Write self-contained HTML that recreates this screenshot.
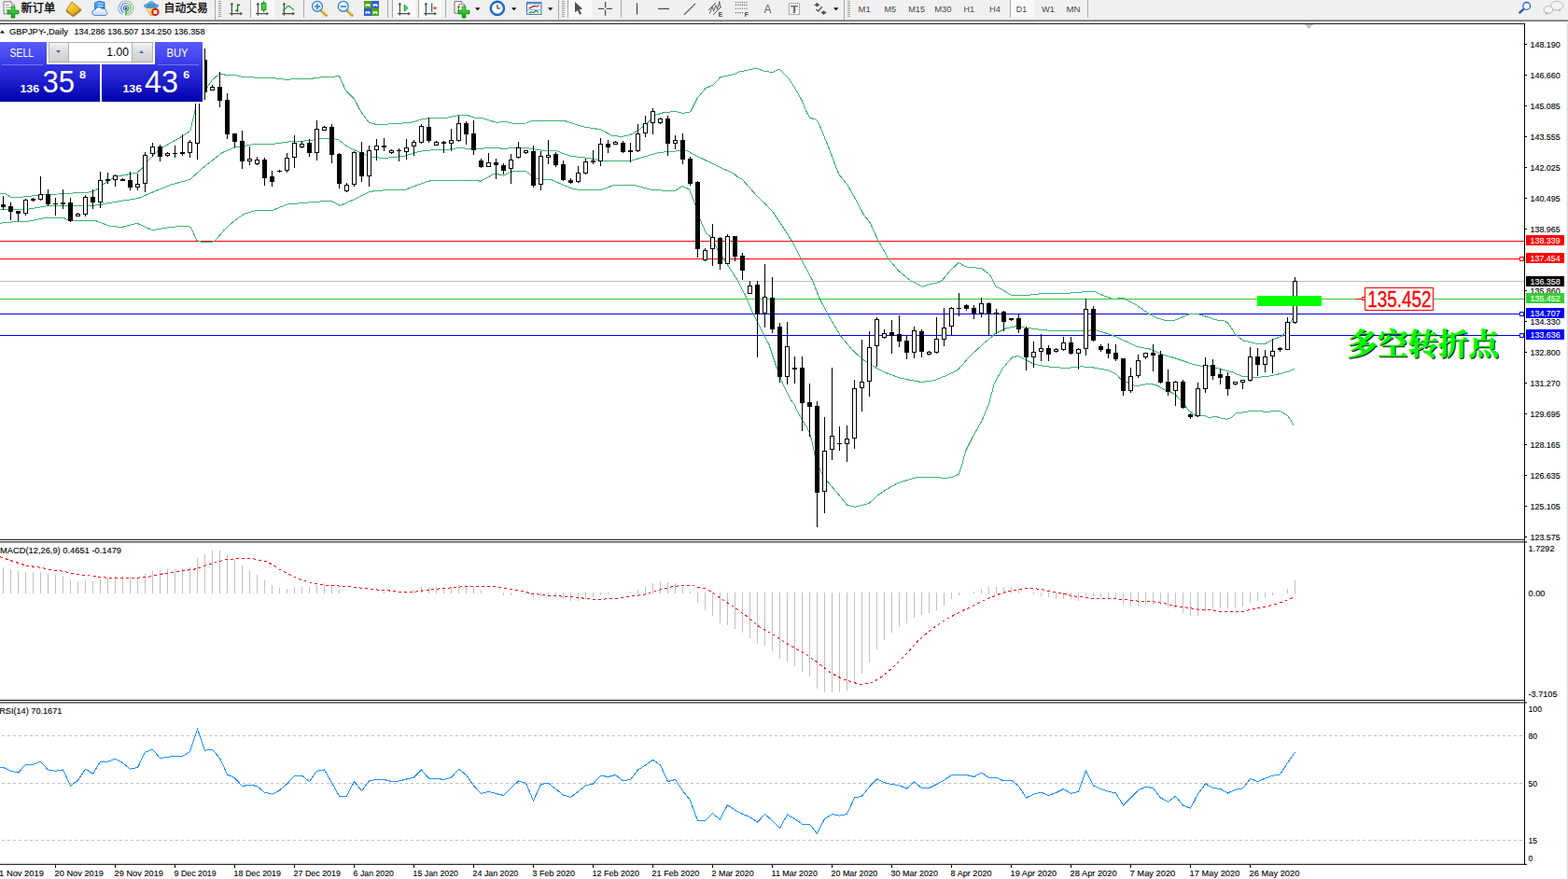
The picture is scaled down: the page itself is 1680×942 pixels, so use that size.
<!DOCTYPE html>
<html><head><meta charset="utf-8"><title>GBPJPY Daily</title>
<style>html,body{margin:0;padding:0;background:#fff;overflow:hidden}body{width:1680px;height:942px;font-family:"Liberation Sans",sans-serif}svg text{white-space:pre}</style></head>
<body>
<svg width="1680" height="942" viewBox="0 0 1680 942" style="display:block">
<rect x="0" y="0" width="1680" height="942" fill="#fff"/>
<g shape-rendering="crispEdges">
<rect x="0" y="301" width="1633" height="1" fill="#c0c0c0"/>
<rect x="0" y="258" width="1633" height="1" fill="#ff0000"/>
<rect x="0" y="277" width="1633" height="1" fill="#ff0000"/>
<rect x="0" y="320" width="1633" height="1" fill="#32cd32"/>
<rect x="0" y="336" width="1633" height="1" fill="#0000ff"/>
<rect x="0" y="359" width="1633" height="1" fill="#0000ff"/>
<polyline points="0.0,207.0 5.0,207.3 11.7,211.3 22.5,211.3 41.7,209.2 70.0,207.5 98.3,205.8 103.3,203.3 110.8,197.5 123.3,189.2 138.3,186.7 147.5,185.0 151.7,180.8 158.0,173.1 171.6,159.5 195.4,145.9 203.9,140.4 209.8,114.9 222.1,93.5 227.2,85.9 234.0,79.9 239.9,79.3 240.8,80.6 253.5,80.6 254.4,81.5 257.8,81.6 258.6,82.5 271.8,82.5 272.6,83.5 295.6,83.5 296.4,84.4 303.7,84.6 304.5,85.5 310.5,85.5 311.3,84.4 335.1,84.4 335.9,83.5 339.3,83.5 342.7,83.4 343.5,82.5 358.8,82.5 359.6,81.4 363.5,81.4 366.4,88.0 370.3,96.5 380.0,106.7 386.8,119.9 395.3,131.3 398.7,132.2 402.1,133.2 410.0,133.2 422.9,132.8 443.3,130.8 450.1,128.2 459.4,126.5 479.0,126.2 490.9,123.5 501.1,123.5 507.9,126.0 516.3,126.5 531.6,131.3 540.9,130.5 550.1,132.2 563.8,132.0 570.6,129.4 591.0,129.6 604.6,129.4 624.9,135.9 643.6,138.8 655.5,145.2 665.7,146.4 675.9,144.4 684.4,139.3 692.9,132.5 703.1,123.1 709.9,120.9 723.5,119.4 732.0,121.4 739.8,119.9 747.0,105.5 755.7,94.8 764.4,90.7 771.9,82.7 787.5,79.3 791.3,77.2 809.8,73.3 812.8,73.8 818.8,76.4 827.7,77.5 835.1,74.1 844.0,82.7 851.4,93.8 858.9,107.2 864.8,121.3 867.8,126.2 873.7,128.0 876.7,131.0 882.6,145.1 888.6,160.0 895.1,177.4 899.3,187.5 908.4,198.7 916.9,214.0 925.4,230.1 932.2,238.6 940.7,257.3 952.1,277.6 963.1,290.7 975.9,300.9 988.2,307.3 995.0,304.9 1005.6,302.6 1010.0,299.8 1017.9,290.2 1027.2,281.4 1034.8,285.9 1051.8,287.6 1054.4,290.0 1060.2,293.9 1067.2,307.0 1074.0,310.4 1083.3,316.3 1101.2,316.3 1119.9,314.3 1141.9,314.3 1157.2,313.4 1162.3,312.1 1172.5,312.1 1181.0,316.3 1192.9,320.6 1203.1,319.2 1218.4,327.4 1230.3,335.9 1240.0,341.0 1247.9,343.2 1258.9,343.2 1274.2,336.7 1284.4,336.7 1297.8,341.0 1301.6,342.7 1311.8,344.0 1315.8,346.2 1320.0,352.5 1323.2,358.0 1331.7,364.8 1348.7,369.0 1355.5,368.5 1364.0,363.9 1374.2,359.7 1382.7,346.1 1386.1,338.4" fill="none" stroke="#3cb371" stroke-width="1"/>
<polyline points="0.0,224.2 10.0,224.7 30.0,224.2 50.0,220.8 70.0,220.5 90.0,220.8 106.7,219.7 116.7,217.5 148.3,212.5 166.7,204.7 183.3,198.0 203.3,192.5 217.9,179.5 237.9,163.7 251.4,158.1 270.9,154.9 280.0,154.4 293.8,154.2 312.5,151.5 331.2,150.8 344.8,148.6 361.7,149.1 371.9,157.1 388.9,164.8 399.1,168.7 412.7,169.3 433.1,167.3 450.1,162.2 465.4,160.5 482.4,160.0 490.9,158.5 507.9,159.7 528.2,158.3 540.0,159.3 550.0,158.5 553.6,158.0 565.5,158.8 582.5,161.4 596.1,161.7 611.4,167.3 624.9,168.7 648.7,172.7 674.2,172.7 692.9,167.3 706.5,163.4 720.1,162.2 736.2,161.4 740.0,163.7 747.4,167.8 752.4,169.9 757.8,172.6 772.7,179.8 783.1,184.5 786.1,185.9 790.5,189.7 794.8,191.9 798.0,195.3 811.5,210.6 820.0,218.6 828.5,227.6 838.7,242.9 848.9,259.0 859.1,279.3 869.7,298.8 878.2,320.0 888.4,339.6 900.6,359.9 912.5,374.3 924.4,385.3 939.7,394.7 949.9,399.8 963.5,404.9 975.4,407.4 987.3,409.5 1000.9,407.8 1014.5,402.3 1026.3,396.4 1039.1,381.8 1050.1,371.7 1053.6,368.2 1060.0,363.2 1065.5,358.0 1077.4,352.0 1089.3,349.5 1099.5,351.2 1116.5,353.7 1138.5,354.9 1155.5,354.6 1174.2,353.7 1192.9,359.7 1218.4,371.5 1232.0,374.1 1240.0,377.5 1250.7,381.7 1255.3,382.6 1270.6,387.7 1277.9,390.2 1284.2,391.9 1298.0,392.8 1313.1,397.0 1320.0,398.7 1330.0,403.0 1341.9,404.7 1357.2,403.5 1372.5,400.4 1381.0,397.9 1387.0,395.3" fill="none" stroke="#3cb371" stroke-width="1"/>
<polyline points="0.0,239.2 16.7,237.5 30.0,237.2 50.0,233.3 68.3,233.3 73.3,236.3 101.7,236.3 116.7,242.0 130.0,243.7 146.7,239.2 163.3,246.7 183.3,243.3 200.0,242.2 204.2,243.3 210.8,257.5 216.7,259.5 227.5,259.5 230.8,257.5 240.0,246.7 250.0,237.5 261.7,229.2 270.0,226.8 275.0,225.3 280.0,225.3 292.1,225.4 307.4,219.1 334.6,216.6 354.9,215.2 364.3,220.5 378.7,214.0 395.7,205.5 405.9,204.2 434.8,203.0 456.9,194.8 463.7,193.3 511.3,193.1 514.6,194.5 529.9,186.0 539.6,188.1 549.2,183.7 563.8,184.0 574.0,191.1 582.5,192.4 591.0,192.8 611.4,201.6 619.9,203.5 643.6,203.5 657.2,198.7 679.3,198.4 699.7,203.8 723.5,204.3 731.0,199.4 738.6,203.0 744.1,217.0 750.5,236.1 756.0,249.0 762.3,254.8 769.1,268.3 779.6,283.9 789.8,299.7 799.2,317.9 804.8,331.2 809.0,340.0 812.3,346.3 824.2,370.0 832.7,395.5 837.8,409.1 842.9,420.0 848.0,429.5 851.4,433.6 853.9,440.0 859.9,450.6 866.6,461.6 870.0,472.7 872.6,486.3 877.7,501.5 881.9,510.0 888.7,518.5 898.9,530.4 907.4,541.0 915.9,543.2 931.2,539.4 939.7,531.3 949.9,524.5 962.6,517.3 978.8,512.6 983.9,511.4 1006.0,511.4 1009.4,512.6 1019.6,511.7 1027.2,508.3 1029.7,501.5 1034.8,482.9 1041.6,469.3 1052.3,450.3 1059.3,433.2 1065.5,410.6 1074.0,395.3 1084.2,383.1 1091.0,381.4 1097.8,385.1 1108.0,390.2 1121.5,392.8 1141.9,394.5 1158.9,392.8 1172.5,394.1 1187.8,397.0 1196.3,401.3 1201.4,407.2 1209.9,410.6 1216.7,413.7 1232.0,411.1 1240.2,413.2 1248.7,418.3 1258.9,422.3 1266.6,431.0 1274.0,440.4 1277.9,442.9 1281.9,446.1 1285.7,445.7 1291.0,445.5 1294.8,447.2 1303.7,446.8 1311.8,448.9 1314.9,449.2 1320.0,447.2 1323.9,442.9 1335.7,441.4 1341.9,440.0 1347.1,440.4 1356.5,441.3 1371.1,440.4 1378.9,444.9 1382.7,449.7 1386.4,456.4" fill="none" stroke="#3cb371" stroke-width="1"/>
<rect x="3" y="210" width="1" height="15" fill="#000"/>
<rect x="1" y="219" width="5" height="3" fill="#000"/>
<rect x="11" y="217" width="1" height="19" fill="#000"/>
<rect x="9" y="221" width="5" height="6" fill="#000"/>
<rect x="19" y="226" width="1" height="11" fill="#000"/>
<rect x="17" y="226" width="5" height="3" fill="#000"/>
<rect x="27" y="213" width="1" height="18" fill="#000"/>
<rect x="25" y="214" width="5" height="15" fill="#000"/><rect x="26" y="215" width="3" height="13" fill="#fff"/>
<rect x="35" y="212" width="1" height="4" fill="#000"/>
<rect x="33" y="213" width="5" height="2" fill="#000"/>
<rect x="43" y="189" width="1" height="26" fill="#000"/>
<rect x="41" y="208" width="5" height="6" fill="#000"/><rect x="42" y="209" width="3" height="4" fill="#fff"/>
<rect x="51" y="203" width="1" height="18" fill="#000"/>
<rect x="49" y="208" width="5" height="11" fill="#000"/>
<rect x="59" y="212" width="1" height="19" fill="#000"/>
<rect x="57" y="218" width="5" height="1" fill="#000"/>
<rect x="67" y="203" width="1" height="21" fill="#000"/>
<rect x="65" y="217" width="5" height="2" fill="#000"/>
<rect x="75" y="212" width="1" height="26" fill="#000"/>
<rect x="73" y="217" width="5" height="20" fill="#000"/>
<rect x="83" y="228" width="1" height="4" fill="#000"/>
<rect x="81" y="229" width="5" height="3" fill="#000"/><rect x="82" y="230" width="3" height="1" fill="#fff"/>
<rect x="91" y="209" width="1" height="23" fill="#000"/>
<rect x="89" y="211" width="5" height="19" fill="#000"/><rect x="90" y="212" width="3" height="17" fill="#fff"/>
<rect x="99" y="203" width="1" height="21" fill="#000"/>
<rect x="97" y="211" width="5" height="6" fill="#000"/>
<rect x="107" y="184" width="1" height="39" fill="#000"/>
<rect x="105" y="193" width="5" height="24" fill="#000"/><rect x="106" y="194" width="3" height="22" fill="#fff"/>
<rect x="115" y="185" width="1" height="12" fill="#000"/>
<rect x="113" y="192" width="5" height="2" fill="#000"/>
<rect x="123" y="187" width="1" height="13" fill="#000"/>
<rect x="121" y="188" width="5" height="5" fill="#000"/><rect x="122" y="189" width="3" height="3" fill="#fff"/>
<rect x="131" y="191" width="1" height="3" fill="#000"/>
<rect x="129" y="192" width="5" height="2" fill="#000"/>
<rect x="139" y="184" width="1" height="20" fill="#000"/>
<rect x="137" y="193" width="5" height="8" fill="#000"/>
<rect x="147" y="186" width="1" height="18" fill="#000"/>
<rect x="145" y="197" width="5" height="4" fill="#000"/><rect x="146" y="198" width="3" height="2" fill="#fff"/>
<rect x="155" y="163" width="1" height="43" fill="#000"/>
<rect x="153" y="166" width="5" height="31" fill="#000"/><rect x="154" y="167" width="3" height="29" fill="#fff"/>
<rect x="163" y="153" width="1" height="15" fill="#000"/>
<rect x="161" y="157" width="5" height="8" fill="#000"/><rect x="162" y="158" width="3" height="6" fill="#fff"/>
<rect x="171" y="155" width="1" height="18" fill="#000"/>
<rect x="169" y="157" width="5" height="11" fill="#000"/>
<rect x="179" y="163" width="1" height="5" fill="#000"/>
<rect x="177" y="164" width="5" height="3" fill="#000"/><rect x="178" y="165" width="3" height="1" fill="#fff"/>
<rect x="187" y="156" width="1" height="13" fill="#000"/>
<rect x="185" y="164" width="5" height="1" fill="#000"/>
<rect x="195" y="144" width="1" height="23" fill="#000"/>
<rect x="193" y="163" width="5" height="2" fill="#000"/>
<rect x="203" y="150" width="1" height="19" fill="#000"/>
<rect x="201" y="152" width="5" height="12" fill="#000"/><rect x="202" y="153" width="3" height="10" fill="#fff"/>
<rect x="211" y="58" width="1" height="113" fill="#000"/>
<rect x="209" y="61" width="5" height="93" fill="#000"/><rect x="210" y="62" width="3" height="91" fill="#fff"/>
<rect x="219" y="52" width="1" height="55" fill="#000"/>
<rect x="217" y="64" width="5" height="35" fill="#000"/>
<rect x="227" y="91" width="1" height="6" fill="#000"/>
<rect x="225" y="93" width="5" height="4" fill="#000"/><rect x="226" y="94" width="3" height="2" fill="#fff"/>
<rect x="235" y="77" width="1" height="38" fill="#000"/>
<rect x="233" y="93" width="5" height="15" fill="#000"/>
<rect x="243" y="100" width="1" height="49" fill="#000"/>
<rect x="241" y="107" width="5" height="37" fill="#000"/>
<rect x="251" y="143" width="1" height="15" fill="#000"/>
<rect x="249" y="143" width="5" height="9" fill="#000"/>
<rect x="259" y="140" width="1" height="41" fill="#000"/>
<rect x="257" y="151" width="5" height="22" fill="#000"/>
<rect x="267" y="157" width="1" height="20" fill="#000"/>
<rect x="265" y="170" width="5" height="3" fill="#000"/><rect x="266" y="171" width="3" height="1" fill="#fff"/>
<rect x="275" y="168" width="1" height="9" fill="#000"/>
<rect x="273" y="171" width="5" height="5" fill="#000"/><rect x="274" y="172" width="3" height="3" fill="#fff"/>
<rect x="283" y="169" width="1" height="30" fill="#000"/>
<rect x="281" y="171" width="5" height="20" fill="#000"/>
<rect x="291" y="183" width="1" height="17" fill="#000"/>
<rect x="289" y="189" width="5" height="6" fill="#000"/>
<rect x="299" y="182" width="1" height="3" fill="#000"/>
<rect x="297" y="183" width="5" height="1" fill="#000"/>
<rect x="307" y="164" width="1" height="21" fill="#000"/>
<rect x="305" y="169" width="5" height="14" fill="#000"/><rect x="306" y="170" width="3" height="12" fill="#fff"/>
<rect x="315" y="145" width="1" height="35" fill="#000"/>
<rect x="313" y="153" width="5" height="16" fill="#000"/><rect x="314" y="154" width="3" height="14" fill="#fff"/>
<rect x="323" y="151" width="1" height="8" fill="#000"/>
<rect x="321" y="154" width="5" height="4" fill="#000"/><rect x="322" y="155" width="3" height="2" fill="#fff"/>
<rect x="331" y="149" width="1" height="19" fill="#000"/>
<rect x="329" y="153" width="5" height="11" fill="#000"/>
<rect x="339" y="129" width="1" height="43" fill="#000"/>
<rect x="337" y="138" width="5" height="26" fill="#000"/><rect x="338" y="139" width="3" height="24" fill="#fff"/>
<rect x="347" y="135" width="1" height="5" fill="#000"/>
<rect x="345" y="136" width="5" height="4" fill="#000"/><rect x="346" y="137" width="3" height="2" fill="#fff"/>
<rect x="355" y="133" width="1" height="42" fill="#000"/>
<rect x="353" y="136" width="5" height="30" fill="#000"/>
<rect x="363" y="164" width="1" height="38" fill="#000"/>
<rect x="361" y="165" width="5" height="32" fill="#000"/>
<rect x="371" y="196" width="1" height="10" fill="#000"/>
<rect x="369" y="198" width="5" height="7" fill="#000"/><rect x="370" y="199" width="3" height="5" fill="#fff"/>
<rect x="379" y="162" width="1" height="38" fill="#000"/>
<rect x="377" y="163" width="5" height="35" fill="#000"/><rect x="378" y="164" width="3" height="33" fill="#fff"/>
<rect x="387" y="152" width="1" height="43" fill="#000"/>
<rect x="385" y="163" width="5" height="26" fill="#000"/>
<rect x="395" y="156" width="1" height="44" fill="#000"/>
<rect x="393" y="161" width="5" height="28" fill="#000"/><rect x="394" y="162" width="3" height="26" fill="#fff"/>
<rect x="403" y="149" width="1" height="23" fill="#000"/>
<rect x="401" y="156" width="5" height="5" fill="#000"/><rect x="402" y="157" width="3" height="3" fill="#fff"/>
<rect x="411" y="148" width="1" height="14" fill="#000"/>
<rect x="409" y="156" width="5" height="2" fill="#000"/>
<rect x="419" y="160" width="1" height="5" fill="#000"/>
<rect x="417" y="161" width="5" height="3" fill="#000"/><rect x="418" y="162" width="3" height="1" fill="#fff"/>
<rect x="427" y="159" width="1" height="14" fill="#000"/>
<rect x="425" y="161" width="5" height="1" fill="#000"/>
<rect x="435" y="149" width="1" height="22" fill="#000"/>
<rect x="433" y="158" width="5" height="5" fill="#000"/><rect x="434" y="159" width="3" height="3" fill="#fff"/>
<rect x="443" y="150" width="1" height="17" fill="#000"/>
<rect x="441" y="152" width="5" height="5" fill="#000"/><rect x="442" y="153" width="3" height="3" fill="#fff"/>
<rect x="451" y="133" width="1" height="21" fill="#000"/>
<rect x="449" y="135" width="5" height="18" fill="#000"/><rect x="450" y="136" width="3" height="16" fill="#fff"/>
<rect x="459" y="126" width="1" height="27" fill="#000"/>
<rect x="457" y="136" width="5" height="15" fill="#000"/>
<rect x="467" y="151" width="1" height="5" fill="#000"/>
<rect x="465" y="152" width="5" height="4" fill="#000"/><rect x="466" y="153" width="3" height="2" fill="#fff"/>
<rect x="475" y="151" width="1" height="13" fill="#000"/>
<rect x="473" y="152" width="5" height="2" fill="#000"/>
<rect x="483" y="138" width="1" height="24" fill="#000"/>
<rect x="481" y="150" width="5" height="4" fill="#000"/><rect x="482" y="151" width="3" height="2" fill="#fff"/>
<rect x="491" y="124" width="1" height="28" fill="#000"/>
<rect x="489" y="132" width="5" height="19" fill="#000"/><rect x="490" y="133" width="3" height="17" fill="#fff"/>
<rect x="499" y="130" width="1" height="25" fill="#000"/>
<rect x="497" y="132" width="5" height="12" fill="#000"/>
<rect x="507" y="129" width="1" height="37" fill="#000"/>
<rect x="505" y="143" width="5" height="18" fill="#000"/>
<rect x="515" y="170" width="1" height="10" fill="#000"/>
<rect x="513" y="172" width="5" height="7" fill="#000"/>
<rect x="523" y="164" width="1" height="15" fill="#000"/>
<rect x="521" y="174" width="5" height="5" fill="#000"/><rect x="522" y="175" width="3" height="3" fill="#fff"/>
<rect x="531" y="170" width="1" height="22" fill="#000"/>
<rect x="529" y="174" width="5" height="3" fill="#000"/>
<rect x="539" y="175" width="1" height="12" fill="#000"/>
<rect x="537" y="177" width="5" height="6" fill="#000"/>
<rect x="547" y="165" width="1" height="32" fill="#000"/>
<rect x="545" y="171" width="5" height="10" fill="#000"/><rect x="546" y="172" width="3" height="8" fill="#fff"/>
<rect x="555" y="152" width="1" height="18" fill="#000"/>
<rect x="553" y="158" width="5" height="11" fill="#000"/><rect x="554" y="159" width="3" height="9" fill="#fff"/>
<rect x="563" y="161" width="1" height="4" fill="#000"/>
<rect x="561" y="161" width="5" height="3" fill="#000"/><rect x="562" y="162" width="3" height="1" fill="#fff"/>
<rect x="571" y="156" width="1" height="45" fill="#000"/>
<rect x="569" y="162" width="5" height="37" fill="#000"/>
<rect x="579" y="162" width="1" height="42" fill="#000"/>
<rect x="577" y="167" width="5" height="31" fill="#000"/><rect x="578" y="168" width="3" height="29" fill="#fff"/>
<rect x="587" y="150" width="1" height="26" fill="#000"/>
<rect x="585" y="166" width="5" height="3" fill="#000"/><rect x="586" y="167" width="3" height="1" fill="#fff"/>
<rect x="595" y="163" width="1" height="16" fill="#000"/>
<rect x="593" y="165" width="5" height="12" fill="#000"/>
<rect x="603" y="172" width="1" height="22" fill="#000"/>
<rect x="601" y="176" width="5" height="17" fill="#000"/>
<rect x="611" y="191" width="1" height="6" fill="#000"/>
<rect x="609" y="193" width="5" height="3" fill="#000"/>
<rect x="619" y="178" width="1" height="18" fill="#000"/>
<rect x="617" y="185" width="5" height="10" fill="#000"/><rect x="618" y="186" width="3" height="8" fill="#fff"/>
<rect x="627" y="170" width="1" height="17" fill="#000"/>
<rect x="625" y="173" width="5" height="13" fill="#000"/><rect x="626" y="174" width="3" height="11" fill="#fff"/>
<rect x="635" y="161" width="1" height="15" fill="#000"/>
<rect x="633" y="172" width="5" height="2" fill="#000"/>
<rect x="643" y="148" width="1" height="30" fill="#000"/>
<rect x="641" y="154" width="5" height="19" fill="#000"/><rect x="642" y="155" width="3" height="17" fill="#fff"/>
<rect x="651" y="150" width="1" height="14" fill="#000"/>
<rect x="649" y="154" width="5" height="4" fill="#000"/>
<rect x="659" y="151" width="1" height="4" fill="#000"/>
<rect x="657" y="152" width="5" height="3" fill="#000"/><rect x="658" y="153" width="3" height="1" fill="#fff"/>
<rect x="667" y="151" width="1" height="13" fill="#000"/>
<rect x="665" y="153" width="5" height="10" fill="#000"/>
<rect x="675" y="153" width="1" height="21" fill="#000"/>
<rect x="673" y="161" width="5" height="2" fill="#000"/>
<rect x="683" y="133" width="1" height="30" fill="#000"/>
<rect x="681" y="143" width="5" height="19" fill="#000"/><rect x="682" y="144" width="3" height="17" fill="#fff"/>
<rect x="691" y="124" width="1" height="23" fill="#000"/>
<rect x="689" y="132" width="5" height="11" fill="#000"/><rect x="690" y="133" width="3" height="9" fill="#fff"/>
<rect x="699" y="116" width="1" height="28" fill="#000"/>
<rect x="697" y="119" width="5" height="13" fill="#000"/><rect x="698" y="120" width="3" height="11" fill="#fff"/>
<rect x="707" y="126" width="1" height="7" fill="#000"/>
<rect x="705" y="127" width="5" height="5" fill="#000"/><rect x="706" y="128" width="3" height="3" fill="#fff"/>
<rect x="715" y="124" width="1" height="43" fill="#000"/>
<rect x="713" y="127" width="5" height="27" fill="#000"/>
<rect x="723" y="145" width="1" height="15" fill="#000"/>
<rect x="721" y="150" width="5" height="4" fill="#000"/><rect x="722" y="151" width="3" height="2" fill="#fff"/>
<rect x="731" y="143" width="1" height="33" fill="#000"/>
<rect x="729" y="150" width="5" height="21" fill="#000"/>
<rect x="739" y="168" width="1" height="31" fill="#000"/>
<rect x="737" y="170" width="5" height="27" fill="#000"/>
<rect x="747" y="194" width="1" height="82" fill="#000"/>
<rect x="745" y="195" width="5" height="72" fill="#000"/>
<rect x="755" y="266" width="1" height="14" fill="#000"/>
<rect x="753" y="268" width="5" height="11" fill="#000"/><rect x="754" y="269" width="3" height="9" fill="#fff"/>
<rect x="763" y="240" width="1" height="45" fill="#000"/>
<rect x="761" y="254" width="5" height="13" fill="#000"/><rect x="762" y="255" width="3" height="11" fill="#fff"/>
<rect x="771" y="254" width="1" height="35" fill="#000"/>
<rect x="769" y="255" width="5" height="28" fill="#000"/>
<rect x="779" y="251" width="1" height="32" fill="#000"/>
<rect x="777" y="253" width="5" height="30" fill="#000"/><rect x="778" y="254" width="3" height="28" fill="#fff"/>
<rect x="787" y="253" width="1" height="27" fill="#000"/>
<rect x="785" y="253" width="5" height="22" fill="#000"/>
<rect x="795" y="271" width="1" height="29" fill="#000"/>
<rect x="793" y="274" width="5" height="16" fill="#000"/>
<rect x="803" y="301" width="1" height="14" fill="#000"/>
<rect x="801" y="306" width="5" height="9" fill="#000"/><rect x="802" y="307" width="3" height="7" fill="#fff"/>
<rect x="811" y="301" width="1" height="82" fill="#000"/>
<rect x="809" y="305" width="5" height="32" fill="#000"/>
<rect x="819" y="283" width="1" height="68" fill="#000"/>
<rect x="817" y="318" width="5" height="18" fill="#000"/><rect x="818" y="319" width="3" height="16" fill="#fff"/>
<rect x="827" y="297" width="1" height="60" fill="#000"/>
<rect x="825" y="319" width="5" height="34" fill="#000"/>
<rect x="835" y="346" width="1" height="64" fill="#000"/>
<rect x="833" y="350" width="5" height="54" fill="#000"/>
<rect x="843" y="345" width="1" height="67" fill="#000"/>
<rect x="841" y="371" width="5" height="33" fill="#000"/><rect x="842" y="372" width="3" height="31" fill="#fff"/>
<rect x="851" y="382" width="1" height="29" fill="#000"/>
<rect x="849" y="394" width="5" height="2" fill="#000"/>
<rect x="859" y="382" width="1" height="80" fill="#000"/>
<rect x="857" y="394" width="5" height="38" fill="#000"/>
<rect x="867" y="411" width="1" height="57" fill="#000"/>
<rect x="865" y="431" width="5" height="5" fill="#000"/>
<rect x="875" y="430" width="1" height="135" fill="#000"/>
<rect x="873" y="435" width="5" height="93" fill="#000"/>
<rect x="883" y="447" width="1" height="103" fill="#000"/>
<rect x="881" y="483" width="5" height="44" fill="#000"/><rect x="882" y="484" width="3" height="42" fill="#fff"/>
<rect x="891" y="394" width="1" height="99" fill="#000"/>
<rect x="889" y="467" width="5" height="15" fill="#000"/><rect x="890" y="468" width="3" height="13" fill="#fff"/>
<rect x="899" y="457" width="1" height="26" fill="#000"/>
<rect x="897" y="475" width="5" height="1" fill="#000"/>
<rect x="907" y="456" width="1" height="39" fill="#000"/>
<rect x="905" y="470" width="5" height="6" fill="#000"/><rect x="906" y="471" width="3" height="4" fill="#fff"/>
<rect x="915" y="407" width="1" height="74" fill="#000"/>
<rect x="913" y="416" width="5" height="54" fill="#000"/><rect x="914" y="417" width="3" height="52" fill="#fff"/>
<rect x="923" y="364" width="1" height="77" fill="#000"/>
<rect x="921" y="409" width="5" height="7" fill="#000"/><rect x="922" y="410" width="3" height="5" fill="#fff"/>
<rect x="931" y="355" width="1" height="70" fill="#000"/>
<rect x="929" y="372" width="5" height="37" fill="#000"/><rect x="930" y="373" width="3" height="35" fill="#fff"/>
<rect x="939" y="340" width="1" height="53" fill="#000"/>
<rect x="937" y="342" width="5" height="29" fill="#000"/><rect x="938" y="343" width="3" height="27" fill="#fff"/>
<rect x="947" y="353" width="1" height="10" fill="#000"/>
<rect x="945" y="357" width="5" height="5" fill="#000"/><rect x="946" y="358" width="3" height="3" fill="#fff"/>
<rect x="955" y="343" width="1" height="36" fill="#000"/>
<rect x="953" y="356" width="5" height="4" fill="#000"/>
<rect x="963" y="338" width="1" height="34" fill="#000"/>
<rect x="961" y="358" width="5" height="8" fill="#000"/>
<rect x="971" y="360" width="1" height="25" fill="#000"/>
<rect x="969" y="365" width="5" height="13" fill="#000"/>
<rect x="979" y="350" width="1" height="34" fill="#000"/>
<rect x="977" y="354" width="5" height="24" fill="#000"/><rect x="978" y="355" width="3" height="22" fill="#fff"/>
<rect x="987" y="353" width="1" height="30" fill="#000"/>
<rect x="985" y="355" width="5" height="22" fill="#000"/>
<rect x="995" y="376" width="1" height="5" fill="#000"/>
<rect x="993" y="377" width="5" height="3" fill="#000"/><rect x="994" y="378" width="3" height="1" fill="#fff"/>
<rect x="1003" y="340" width="1" height="39" fill="#000"/>
<rect x="1001" y="363" width="5" height="15" fill="#000"/><rect x="1002" y="364" width="3" height="13" fill="#fff"/>
<rect x="1011" y="330" width="1" height="41" fill="#000"/>
<rect x="1009" y="351" width="5" height="13" fill="#000"/><rect x="1010" y="352" width="3" height="11" fill="#fff"/>
<rect x="1019" y="329" width="1" height="30" fill="#000"/>
<rect x="1017" y="330" width="5" height="20" fill="#000"/><rect x="1018" y="331" width="3" height="18" fill="#fff"/>
<rect x="1027" y="314" width="1" height="25" fill="#000"/>
<rect x="1025" y="330" width="5" height="1" fill="#000"/>
<rect x="1035" y="326" width="1" height="7" fill="#000"/>
<rect x="1033" y="327" width="5" height="4" fill="#000"/>
<rect x="1043" y="327" width="1" height="15" fill="#000"/>
<rect x="1041" y="330" width="5" height="6" fill="#000"/>
<rect x="1051" y="319" width="1" height="21" fill="#000"/>
<rect x="1049" y="325" width="5" height="11" fill="#000"/><rect x="1050" y="326" width="3" height="9" fill="#fff"/>
<rect x="1059" y="324" width="1" height="36" fill="#000"/>
<rect x="1057" y="325" width="5" height="11" fill="#000"/>
<rect x="1067" y="331" width="1" height="27" fill="#000"/>
<rect x="1065" y="335" width="5" height="2" fill="#000"/>
<rect x="1075" y="333" width="1" height="22" fill="#000"/>
<rect x="1073" y="334" width="5" height="11" fill="#000"/>
<rect x="1083" y="341" width="1" height="3" fill="#000"/>
<rect x="1081" y="341" width="5" height="2" fill="#000"/>
<rect x="1091" y="336" width="1" height="21" fill="#000"/>
<rect x="1089" y="341" width="5" height="12" fill="#000"/>
<rect x="1099" y="350" width="1" height="47" fill="#000"/>
<rect x="1097" y="352" width="5" height="31" fill="#000"/>
<rect x="1107" y="366" width="1" height="28" fill="#000"/>
<rect x="1105" y="377" width="5" height="6" fill="#000"/><rect x="1106" y="378" width="3" height="4" fill="#fff"/>
<rect x="1115" y="358" width="1" height="29" fill="#000"/>
<rect x="1113" y="373" width="5" height="4" fill="#000"/><rect x="1114" y="374" width="3" height="2" fill="#fff"/>
<rect x="1123" y="370" width="1" height="17" fill="#000"/>
<rect x="1121" y="373" width="5" height="7" fill="#000"/>
<rect x="1131" y="373" width="1" height="5" fill="#000"/>
<rect x="1129" y="374" width="5" height="3" fill="#000"/><rect x="1130" y="375" width="3" height="1" fill="#fff"/>
<rect x="1139" y="361" width="1" height="15" fill="#000"/>
<rect x="1137" y="367" width="5" height="8" fill="#000"/><rect x="1138" y="368" width="3" height="6" fill="#fff"/>
<rect x="1147" y="361" width="1" height="19" fill="#000"/>
<rect x="1145" y="367" width="5" height="12" fill="#000"/>
<rect x="1155" y="373" width="1" height="23" fill="#000"/>
<rect x="1153" y="374" width="5" height="5" fill="#000"/><rect x="1154" y="375" width="3" height="3" fill="#fff"/>
<rect x="1163" y="320" width="1" height="61" fill="#000"/>
<rect x="1161" y="331" width="5" height="43" fill="#000"/><rect x="1162" y="332" width="3" height="41" fill="#fff"/>
<rect x="1171" y="328" width="1" height="38" fill="#000"/>
<rect x="1169" y="331" width="5" height="34" fill="#000"/>
<rect x="1179" y="369" width="1" height="8" fill="#000"/>
<rect x="1177" y="371" width="5" height="4" fill="#000"/>
<rect x="1187" y="368" width="1" height="16" fill="#000"/>
<rect x="1185" y="374" width="5" height="5" fill="#000"/>
<rect x="1195" y="369" width="1" height="18" fill="#000"/>
<rect x="1193" y="378" width="5" height="7" fill="#000"/>
<rect x="1203" y="384" width="1" height="40" fill="#000"/>
<rect x="1201" y="384" width="5" height="35" fill="#000"/>
<rect x="1211" y="394" width="1" height="27" fill="#000"/>
<rect x="1209" y="403" width="5" height="16" fill="#000"/><rect x="1210" y="404" width="3" height="14" fill="#fff"/>
<rect x="1219" y="380" width="1" height="25" fill="#000"/>
<rect x="1217" y="386" width="5" height="17" fill="#000"/><rect x="1218" y="387" width="3" height="15" fill="#fff"/>
<rect x="1227" y="378" width="1" height="7" fill="#000"/>
<rect x="1225" y="378" width="5" height="5" fill="#000"/><rect x="1226" y="379" width="3" height="3" fill="#fff"/>
<rect x="1235" y="369" width="1" height="29" fill="#000"/>
<rect x="1233" y="378" width="5" height="3" fill="#000"/>
<rect x="1243" y="376" width="1" height="35" fill="#000"/>
<rect x="1241" y="380" width="5" height="30" fill="#000"/>
<rect x="1251" y="396" width="1" height="28" fill="#000"/>
<rect x="1249" y="409" width="5" height="11" fill="#000"/>
<rect x="1259" y="408" width="1" height="27" fill="#000"/>
<rect x="1257" y="409" width="5" height="10" fill="#000"/><rect x="1258" y="410" width="3" height="8" fill="#fff"/>
<rect x="1267" y="407" width="1" height="31" fill="#000"/>
<rect x="1265" y="409" width="5" height="28" fill="#000"/>
<rect x="1275" y="443" width="1" height="6" fill="#000"/>
<rect x="1273" y="444" width="5" height="3" fill="#000"/>
<rect x="1283" y="410" width="1" height="37" fill="#000"/>
<rect x="1281" y="416" width="5" height="30" fill="#000"/><rect x="1282" y="417" width="3" height="28" fill="#fff"/>
<rect x="1291" y="383" width="1" height="38" fill="#000"/>
<rect x="1289" y="391" width="5" height="26" fill="#000"/><rect x="1290" y="392" width="3" height="24" fill="#fff"/>
<rect x="1299" y="385" width="1" height="22" fill="#000"/>
<rect x="1297" y="391" width="5" height="12" fill="#000"/>
<rect x="1307" y="395" width="1" height="17" fill="#000"/>
<rect x="1305" y="401" width="5" height="4" fill="#000"/>
<rect x="1315" y="399" width="1" height="25" fill="#000"/>
<rect x="1313" y="403" width="5" height="14" fill="#000"/>
<rect x="1323" y="409" width="1" height="4" fill="#000"/>
<rect x="1321" y="409" width="5" height="3" fill="#000"/><rect x="1322" y="410" width="3" height="1" fill="#fff"/>
<rect x="1331" y="407" width="1" height="10" fill="#000"/>
<rect x="1329" y="407" width="5" height="3" fill="#000"/><rect x="1330" y="408" width="3" height="1" fill="#fff"/>
<rect x="1339" y="372" width="1" height="37" fill="#000"/>
<rect x="1337" y="382" width="5" height="26" fill="#000"/><rect x="1338" y="383" width="3" height="24" fill="#fff"/>
<rect x="1347" y="373" width="1" height="30" fill="#000"/>
<rect x="1345" y="382" width="5" height="9" fill="#000"/>
<rect x="1355" y="375" width="1" height="24" fill="#000"/>
<rect x="1353" y="382" width="5" height="9" fill="#000"/><rect x="1354" y="383" width="3" height="7" fill="#fff"/>
<rect x="1363" y="363" width="1" height="37" fill="#000"/>
<rect x="1361" y="376" width="5" height="6" fill="#000"/><rect x="1362" y="377" width="3" height="4" fill="#fff"/>
<rect x="1371" y="372" width="1" height="5" fill="#000"/>
<rect x="1369" y="373" width="5" height="2" fill="#000"/>
<rect x="1379" y="340" width="1" height="35" fill="#000"/>
<rect x="1377" y="345" width="5" height="30" fill="#000"/><rect x="1378" y="346" width="3" height="28" fill="#fff"/>
<rect x="1387" y="297" width="1" height="50" fill="#000"/>
<rect x="1385" y="301" width="5" height="45" fill="#000"/><rect x="1386" y="302" width="3" height="43" fill="#fff"/>
</g>
<g shape-rendering="crispEdges">
<rect x="1347" y="317" width="69" height="11" fill="#00ff00"/>
<rect x="1452" y="320" width="8" height="1" fill="#ff0000"/>
<rect x="1459.5" y="318.5" width="3" height="3" fill="#fff" stroke="#ff0000" stroke-width="1"/>
<rect x="1462.5" y="308.5" width="73" height="24" fill="#fff" stroke="#ff0000" stroke-width="1"/>
<rect x="1628.5" y="275.5" width="4" height="4" fill="#fff" stroke="#ff0000" stroke-width="1"/>
<rect x="1628.5" y="334.5" width="4" height="4" fill="#fff" stroke="#0000ff" stroke-width="1"/>
<rect x="1628.5" y="357.5" width="4" height="4" fill="#fff" stroke="#0000ff" stroke-width="1"/>
</g>
<text x="1465.2" y="329" font-size="23" fill="#ff0000" font-family="Liberation Sans, sans-serif" textLength="68.2" lengthAdjust="spacingAndGlyphs" stroke="#ff0000" stroke-width="0.35">135.452</text>
<text x="1444.6" y="381.1" font-size="32" font-weight="bold" fill="#101010" stroke="#101010" stroke-width="0.6" stroke-linejoin="round" font-family="'Liberation Serif', 'Noto Serif CJK SC', serif" textLength="162.4" lengthAdjust="spacingAndGlyphs">多空转折点</text>
<text x="1443.6" y="380.1" font-size="32" font-weight="bold" fill="#00ff00" stroke="#00ff00" stroke-width="0.6" stroke-linejoin="round" font-family="'Liberation Serif', 'Noto Serif CJK SC', serif" textLength="162.4" lengthAdjust="spacingAndGlyphs">多空转折点</text>
<g fill="#000">
<rect x="0" y="24.9" width="1634" height="1"/>
<rect x="1633" y="25" width="1" height="901.8" shape-rendering="crispEdges"/>
<rect x="0" y="578.8" width="1633" height="1.6" fill="#fff"/>
<rect x="0" y="577.8" width="1634" height="1"/>
<rect x="0" y="580.4" width="1636" height="1"/>
<rect x="0" y="750.9" width="1633" height="1.4" fill="#fff"/>
<rect x="0" y="749.9" width="1634" height="1"/>
<rect x="0" y="752.45" width="1636" height="1"/>
<rect x="0" y="925.8" width="1636" height="1"/>
<rect x="1678.6" y="23" width="1.4" height="919" fill="#dedede"/>
</g>
<g shape-rendering="crispEdges">
<rect x="1634" y="47" width="2" height="1" fill="#000"/>
<rect x="1634" y="80" width="2" height="1" fill="#000"/>
<rect x="1634" y="113" width="2" height="1" fill="#000"/>
<rect x="1634" y="146" width="2" height="1" fill="#000"/>
<rect x="1634" y="179" width="2" height="1" fill="#000"/>
<rect x="1634" y="212" width="2" height="1" fill="#000"/>
<rect x="1634" y="245" width="2" height="1" fill="#000"/>
<rect x="1634" y="311" width="2" height="1" fill="#000"/>
<rect x="1634" y="344" width="2" height="1" fill="#000"/>
<rect x="1634" y="377" width="2" height="1" fill="#000"/>
<rect x="1634" y="410" width="2" height="1" fill="#000"/>
<rect x="1634" y="443" width="2" height="1" fill="#000"/>
<rect x="1634" y="476" width="2" height="1" fill="#000"/>
<rect x="1634" y="509" width="2" height="1" fill="#000"/>
<rect x="1634" y="542" width="2" height="1" fill="#000"/>
<rect x="1634" y="575" width="2" height="1" fill="#000"/>
</g>
<text x="1639.5" y="51.3" font-size="9.6" fill="#000" font-family="Liberation Sans, sans-serif" textLength="32.2" lengthAdjust="spacingAndGlyphs" stroke="#000" stroke-width="0.12">148.190</text>
<text x="1639.5" y="84.3" font-size="9.6" fill="#000" font-family="Liberation Sans, sans-serif" textLength="32.2" lengthAdjust="spacingAndGlyphs" stroke="#000" stroke-width="0.12">146.660</text>
<text x="1639.5" y="117.2" font-size="9.6" fill="#000" font-family="Liberation Sans, sans-serif" textLength="32.2" lengthAdjust="spacingAndGlyphs" stroke="#000" stroke-width="0.12">145.085</text>
<text x="1639.5" y="150.2" font-size="9.6" fill="#000" font-family="Liberation Sans, sans-serif" textLength="32.2" lengthAdjust="spacingAndGlyphs" stroke="#000" stroke-width="0.12">143.555</text>
<text x="1639.5" y="183.2" font-size="9.6" fill="#000" font-family="Liberation Sans, sans-serif" textLength="32.2" lengthAdjust="spacingAndGlyphs" stroke="#000" stroke-width="0.12">142.025</text>
<text x="1639.5" y="216.2" font-size="9.6" fill="#000" font-family="Liberation Sans, sans-serif" textLength="32.2" lengthAdjust="spacingAndGlyphs" stroke="#000" stroke-width="0.12">140.495</text>
<text x="1639.5" y="249.2" font-size="9.6" fill="#000" font-family="Liberation Sans, sans-serif" textLength="32.2" lengthAdjust="spacingAndGlyphs" stroke="#000" stroke-width="0.12">138.965</text>
<text x="1639.5" y="315.1" font-size="9.6" fill="#000" font-family="Liberation Sans, sans-serif" textLength="32.2" lengthAdjust="spacingAndGlyphs" stroke="#000" stroke-width="0.12">135.860</text>
<text x="1639.5" y="348.1" font-size="9.6" fill="#000" font-family="Liberation Sans, sans-serif" textLength="32.2" lengthAdjust="spacingAndGlyphs" stroke="#000" stroke-width="0.12">134.330</text>
<text x="1639.5" y="381.0" font-size="9.6" fill="#000" font-family="Liberation Sans, sans-serif" textLength="32.2" lengthAdjust="spacingAndGlyphs" stroke="#000" stroke-width="0.12">132.800</text>
<text x="1639.5" y="414.0" font-size="9.6" fill="#000" font-family="Liberation Sans, sans-serif" textLength="32.2" lengthAdjust="spacingAndGlyphs" stroke="#000" stroke-width="0.12">131.270</text>
<text x="1639.5" y="447.0" font-size="9.6" fill="#000" font-family="Liberation Sans, sans-serif" textLength="32.2" lengthAdjust="spacingAndGlyphs" stroke="#000" stroke-width="0.12">129.695</text>
<text x="1639.5" y="480.0" font-size="9.6" fill="#000" font-family="Liberation Sans, sans-serif" textLength="32.2" lengthAdjust="spacingAndGlyphs" stroke="#000" stroke-width="0.12">128.165</text>
<text x="1639.5" y="513.0" font-size="9.6" fill="#000" font-family="Liberation Sans, sans-serif" textLength="32.2" lengthAdjust="spacingAndGlyphs" stroke="#000" stroke-width="0.12">126.635</text>
<text x="1639.5" y="545.9" font-size="9.6" fill="#000" font-family="Liberation Sans, sans-serif" textLength="32.2" lengthAdjust="spacingAndGlyphs" stroke="#000" stroke-width="0.12">125.105</text>
<text x="1639.5" y="578.9" font-size="9.6" fill="#000" font-family="Liberation Sans, sans-serif" textLength="32.2" lengthAdjust="spacingAndGlyphs" stroke="#000" stroke-width="0.12">123.575</text>
<rect x="1635" y="252" width="41" height="11" fill="#ff0000" shape-rendering="crispEdges"/>
<text x="1639.5" y="260.9" font-size="9.6" fill="#fff" font-family="Liberation Sans, sans-serif" textLength="32.2" lengthAdjust="spacingAndGlyphs" stroke="#fff" stroke-width="0.12">138.339</text>
<rect x="1635" y="271" width="41" height="11" fill="#ff0000" shape-rendering="crispEdges"/>
<text x="1639.5" y="279.9" font-size="9.6" fill="#fff" font-family="Liberation Sans, sans-serif" textLength="32.2" lengthAdjust="spacingAndGlyphs" stroke="#fff" stroke-width="0.12">137.454</text>
<rect x="1635" y="296" width="41" height="11" fill="#000000" shape-rendering="crispEdges"/>
<text x="1639.5" y="304.9" font-size="9.6" fill="#fff" font-family="Liberation Sans, sans-serif" textLength="32.2" lengthAdjust="spacingAndGlyphs" stroke="#fff" stroke-width="0.12">136.358</text>
<rect x="1635" y="314" width="41" height="11" fill="#32cd32" shape-rendering="crispEdges"/>
<text x="1639.5" y="322.9" font-size="9.6" fill="#fff" font-family="Liberation Sans, sans-serif" textLength="32.2" lengthAdjust="spacingAndGlyphs" stroke="#fff" stroke-width="0.12">135.452</text>
<rect x="1635" y="330" width="41" height="11" fill="#0000ff" shape-rendering="crispEdges"/>
<text x="1639.5" y="338.9" font-size="9.6" fill="#fff" font-family="Liberation Sans, sans-serif" textLength="32.2" lengthAdjust="spacingAndGlyphs" stroke="#fff" stroke-width="0.12">134.707</text>
<rect x="1635" y="353" width="41" height="11" fill="#0000ff" shape-rendering="crispEdges"/>
<text x="1639.5" y="361.9" font-size="9.6" fill="#fff" font-family="Liberation Sans, sans-serif" textLength="32.2" lengthAdjust="spacingAndGlyphs" stroke="#fff" stroke-width="0.12">133.636</text>
<g shape-rendering="crispEdges">
<rect x="3" y="608" width="1" height="28" fill="#c0c0c0"/>
<rect x="11" y="610" width="1" height="26" fill="#c0c0c0"/>
<rect x="19" y="612" width="1" height="24" fill="#c0c0c0"/>
<rect x="27" y="613" width="1" height="23" fill="#c0c0c0"/>
<rect x="35" y="613" width="1" height="23" fill="#c0c0c0"/>
<rect x="43" y="613" width="1" height="23" fill="#c0c0c0"/>
<rect x="51" y="615" width="1" height="21" fill="#c0c0c0"/>
<rect x="59" y="616" width="1" height="20" fill="#c0c0c0"/>
<rect x="67" y="617" width="1" height="19" fill="#c0c0c0"/>
<rect x="75" y="621" width="1" height="15" fill="#c0c0c0"/>
<rect x="83" y="623" width="1" height="13" fill="#c0c0c0"/>
<rect x="91" y="622" width="1" height="14" fill="#c0c0c0"/>
<rect x="99" y="623" width="1" height="13" fill="#c0c0c0"/>
<rect x="107" y="621" width="1" height="15" fill="#c0c0c0"/>
<rect x="115" y="619" width="1" height="17" fill="#c0c0c0"/>
<rect x="123" y="617" width="1" height="19" fill="#c0c0c0"/>
<rect x="131" y="617" width="1" height="19" fill="#c0c0c0"/>
<rect x="139" y="618" width="1" height="18" fill="#c0c0c0"/>
<rect x="147" y="619" width="1" height="17" fill="#c0c0c0"/>
<rect x="155" y="615" width="1" height="21" fill="#c0c0c0"/>
<rect x="163" y="612" width="1" height="24" fill="#c0c0c0"/>
<rect x="171" y="611" width="1" height="25" fill="#c0c0c0"/>
<rect x="179" y="610" width="1" height="26" fill="#c0c0c0"/>
<rect x="187" y="610" width="1" height="26" fill="#c0c0c0"/>
<rect x="195" y="609" width="1" height="27" fill="#c0c0c0"/>
<rect x="203" y="608" width="1" height="28" fill="#c0c0c0"/>
<rect x="211" y="598" width="1" height="38" fill="#c0c0c0"/>
<rect x="219" y="594" width="1" height="42" fill="#c0c0c0"/>
<rect x="227" y="590" width="1" height="46" fill="#c0c0c0"/>
<rect x="235" y="590" width="1" height="46" fill="#c0c0c0"/>
<rect x="243" y="594" width="1" height="42" fill="#c0c0c0"/>
<rect x="251" y="599" width="1" height="37" fill="#c0c0c0"/>
<rect x="259" y="606" width="1" height="30" fill="#c0c0c0"/>
<rect x="267" y="611" width="1" height="25" fill="#c0c0c0"/>
<rect x="275" y="616" width="1" height="20" fill="#c0c0c0"/>
<rect x="283" y="622" width="1" height="14" fill="#c0c0c0"/>
<rect x="291" y="627" width="1" height="9" fill="#c0c0c0"/>
<rect x="299" y="630" width="1" height="6" fill="#c0c0c0"/>
<rect x="307" y="631" width="1" height="5" fill="#c0c0c0"/>
<rect x="315" y="629" width="1" height="7" fill="#c0c0c0"/>
<rect x="323" y="629" width="1" height="7" fill="#c0c0c0"/>
<rect x="331" y="629" width="1" height="7" fill="#c0c0c0"/>
<rect x="339" y="627" width="1" height="9" fill="#c0c0c0"/>
<rect x="347" y="625" width="1" height="11" fill="#c0c0c0"/>
<rect x="355" y="627" width="1" height="9" fill="#c0c0c0"/>
<rect x="363" y="632" width="1" height="4" fill="#c0c0c0"/>
<rect x="411" y="634" width="1" height="2" fill="#c0c0c0"/>
<rect x="435" y="634" width="1" height="2" fill="#c0c0c0"/>
<rect x="443" y="632" width="1" height="4" fill="#c0c0c0"/>
<rect x="451" y="629" width="1" height="7" fill="#c0c0c0"/>
<rect x="459" y="629" width="1" height="7" fill="#c0c0c0"/>
<rect x="467" y="629" width="1" height="7" fill="#c0c0c0"/>
<rect x="475" y="630" width="1" height="6" fill="#c0c0c0"/>
<rect x="483" y="629" width="1" height="7" fill="#c0c0c0"/>
<rect x="491" y="627" width="1" height="9" fill="#c0c0c0"/>
<rect x="499" y="627" width="1" height="9" fill="#c0c0c0"/>
<rect x="507" y="629" width="1" height="7" fill="#c0c0c0"/>
<rect x="515" y="632" width="1" height="4" fill="#c0c0c0"/>
<rect x="539" y="635" width="1" height="3" fill="#c0c0c0"/>
<rect x="547" y="635" width="1" height="3" fill="#c0c0c0"/>
<rect x="563" y="635" width="1" height="2" fill="#c0c0c0"/>
<rect x="571" y="635" width="1" height="5" fill="#c0c0c0"/>
<rect x="579" y="635" width="1" height="4" fill="#c0c0c0"/>
<rect x="587" y="635" width="1" height="4" fill="#c0c0c0"/>
<rect x="595" y="635" width="1" height="5" fill="#c0c0c0"/>
<rect x="603" y="635" width="1" height="7" fill="#c0c0c0"/>
<rect x="611" y="635" width="1" height="9" fill="#c0c0c0"/>
<rect x="619" y="635" width="1" height="9" fill="#c0c0c0"/>
<rect x="627" y="635" width="1" height="7" fill="#c0c0c0"/>
<rect x="635" y="635" width="1" height="5" fill="#c0c0c0"/>
<rect x="643" y="635" width="1" height="3" fill="#c0c0c0"/>
<rect x="651" y="635" width="1" height="2" fill="#c0c0c0"/>
<rect x="675" y="634" width="1" height="2" fill="#c0c0c0"/>
<rect x="683" y="632" width="1" height="4" fill="#c0c0c0"/>
<rect x="691" y="629" width="1" height="7" fill="#c0c0c0"/>
<rect x="699" y="625" width="1" height="11" fill="#c0c0c0"/>
<rect x="707" y="623" width="1" height="13" fill="#c0c0c0"/>
<rect x="715" y="624" width="1" height="12" fill="#c0c0c0"/>
<rect x="723" y="625" width="1" height="11" fill="#c0c0c0"/>
<rect x="731" y="629" width="1" height="7" fill="#c0c0c0"/>
<rect x="739" y="634" width="1" height="2" fill="#c0c0c0"/>
<rect x="747" y="635" width="1" height="11" fill="#c0c0c0"/>
<rect x="755" y="635" width="1" height="19" fill="#c0c0c0"/>
<rect x="763" y="635" width="1" height="25" fill="#c0c0c0"/>
<rect x="771" y="635" width="1" height="33" fill="#c0c0c0"/>
<rect x="779" y="635" width="1" height="35" fill="#c0c0c0"/>
<rect x="787" y="635" width="1" height="39" fill="#c0c0c0"/>
<rect x="795" y="635" width="1" height="43" fill="#c0c0c0"/>
<rect x="803" y="635" width="1" height="49" fill="#c0c0c0"/>
<rect x="811" y="635" width="1" height="55" fill="#c0c0c0"/>
<rect x="819" y="635" width="1" height="57" fill="#c0c0c0"/>
<rect x="827" y="635" width="1" height="63" fill="#c0c0c0"/>
<rect x="835" y="635" width="1" height="71" fill="#c0c0c0"/>
<rect x="843" y="635" width="1" height="74" fill="#c0c0c0"/>
<rect x="851" y="635" width="1" height="79" fill="#c0c0c0"/>
<rect x="859" y="635" width="1" height="85" fill="#c0c0c0"/>
<rect x="867" y="635" width="1" height="90" fill="#c0c0c0"/>
<rect x="875" y="635" width="1" height="103" fill="#c0c0c0"/>
<rect x="883" y="635" width="1" height="107" fill="#c0c0c0"/>
<rect x="891" y="635" width="1" height="107" fill="#c0c0c0"/>
<rect x="899" y="635" width="1" height="107" fill="#c0c0c0"/>
<rect x="907" y="635" width="1" height="105" fill="#c0c0c0"/>
<rect x="915" y="635" width="1" height="96" fill="#c0c0c0"/>
<rect x="923" y="635" width="1" height="87" fill="#c0c0c0"/>
<rect x="931" y="635" width="1" height="75" fill="#c0c0c0"/>
<rect x="939" y="635" width="1" height="61" fill="#c0c0c0"/>
<rect x="947" y="635" width="1" height="51" fill="#c0c0c0"/>
<rect x="955" y="635" width="1" height="43" fill="#c0c0c0"/>
<rect x="963" y="635" width="1" height="37" fill="#c0c0c0"/>
<rect x="971" y="635" width="1" height="33" fill="#c0c0c0"/>
<rect x="979" y="635" width="1" height="27" fill="#c0c0c0"/>
<rect x="987" y="635" width="1" height="24" fill="#c0c0c0"/>
<rect x="995" y="635" width="1" height="22" fill="#c0c0c0"/>
<rect x="1003" y="635" width="1" height="19" fill="#c0c0c0"/>
<rect x="1011" y="635" width="1" height="14" fill="#c0c0c0"/>
<rect x="1019" y="635" width="1" height="7" fill="#c0c0c0"/>
<rect x="1027" y="635" width="1" height="3" fill="#c0c0c0"/>
<rect x="1043" y="634" width="1" height="2" fill="#c0c0c0"/>
<rect x="1051" y="631" width="1" height="5" fill="#c0c0c0"/>
<rect x="1059" y="629" width="1" height="7" fill="#c0c0c0"/>
<rect x="1067" y="629" width="1" height="7" fill="#c0c0c0"/>
<rect x="1075" y="629" width="1" height="7" fill="#c0c0c0"/>
<rect x="1083" y="629" width="1" height="7" fill="#c0c0c0"/>
<rect x="1091" y="632" width="1" height="4" fill="#c0c0c0"/>
<rect x="1107" y="635" width="1" height="2" fill="#c0c0c0"/>
<rect x="1115" y="635" width="1" height="4" fill="#c0c0c0"/>
<rect x="1123" y="635" width="1" height="5" fill="#c0c0c0"/>
<rect x="1131" y="635" width="1" height="7" fill="#c0c0c0"/>
<rect x="1139" y="635" width="1" height="7" fill="#c0c0c0"/>
<rect x="1147" y="635" width="1" height="7" fill="#c0c0c0"/>
<rect x="1155" y="635" width="1" height="9" fill="#c0c0c0"/>
<rect x="1163" y="635" width="1" height="4" fill="#c0c0c0"/>
<rect x="1171" y="635" width="1" height="4" fill="#c0c0c0"/>
<rect x="1179" y="635" width="1" height="5" fill="#c0c0c0"/>
<rect x="1187" y="635" width="1" height="5" fill="#c0c0c0"/>
<rect x="1195" y="635" width="1" height="7" fill="#c0c0c0"/>
<rect x="1203" y="635" width="1" height="13" fill="#c0c0c0"/>
<rect x="1211" y="635" width="1" height="14" fill="#c0c0c0"/>
<rect x="1219" y="635" width="1" height="14" fill="#c0c0c0"/>
<rect x="1227" y="635" width="1" height="13" fill="#c0c0c0"/>
<rect x="1235" y="635" width="1" height="13" fill="#c0c0c0"/>
<rect x="1243" y="635" width="1" height="13" fill="#c0c0c0"/>
<rect x="1251" y="635" width="1" height="16" fill="#c0c0c0"/>
<rect x="1259" y="635" width="1" height="17" fill="#c0c0c0"/>
<rect x="1267" y="635" width="1" height="22" fill="#c0c0c0"/>
<rect x="1275" y="635" width="1" height="25" fill="#c0c0c0"/>
<rect x="1283" y="635" width="1" height="25" fill="#c0c0c0"/>
<rect x="1291" y="635" width="1" height="20" fill="#c0c0c0"/>
<rect x="1299" y="635" width="1" height="19" fill="#c0c0c0"/>
<rect x="1307" y="635" width="1" height="17" fill="#c0c0c0"/>
<rect x="1315" y="635" width="1" height="17" fill="#c0c0c0"/>
<rect x="1323" y="635" width="1" height="16" fill="#c0c0c0"/>
<rect x="1331" y="635" width="1" height="15" fill="#c0c0c0"/>
<rect x="1339" y="635" width="1" height="11" fill="#c0c0c0"/>
<rect x="1347" y="635" width="1" height="9" fill="#c0c0c0"/>
<rect x="1355" y="635" width="1" height="5" fill="#c0c0c0"/>
<rect x="1363" y="635" width="1" height="3" fill="#c0c0c0"/>
<rect x="1379" y="631" width="1" height="5" fill="#c0c0c0"/>
<rect x="1387" y="622" width="1" height="14" fill="#c0c0c0"/>
<polyline points="0.0,596.8 12.5,601.0 27.5,606.0 45.0,608.5 57.5,611.2 67.5,612.2 82.5,615.5 100.0,617.5 115.0,619.2 132.5,619.2 147.5,619.2 160.0,618.0 170.0,615.5 187.5,613.0 210.0,609.8 220.0,606.0 230.0,603.0 240.0,600.0 255.0,598.5 270.0,598.5 285.0,601.8 292.5,605.5 300.0,610.5 312.5,616.8 325.0,622.2 337.5,625.5 350.0,627.5 375.0,628.5 390.0,630.5 400.0,631.8 415.0,632.5 420.0,633.5 435.0,634.8 445.0,634.2 457.5,632.2 470.0,631.0 482.5,630.0 495.0,628.8 502.5,628.0 532.5,628.8 540.0,630.5 550.0,632.2 560.0,633.5 570.0,636.2 590.0,638.5 605.0,639.2 620.0,640.5 635.0,642.2 645.0,642.2 660.0,641.2 670.0,640.0 690.0,637.2 700.0,634.2 710.0,631.2 720.0,628.8 730.0,627.5 742.5,627.5 750.0,630.0 757.5,631.2 765.0,636.2 775.0,643.0 787.5,651.2 800.0,660.5 812.5,671.0 825.0,678.0 837.5,686.0 840.0,688.0 852.5,695.0 865.0,702.2 877.5,711.2 890.0,721.2 902.5,727.5 912.5,731.0 922.5,733.5 932.5,732.2 942.5,726.8 955.0,716.8 970.0,701.8 985.0,685.5 995.0,676.8 1010.0,666.0 1025.0,657.5 1040.0,650.5 1055.0,643.0 1070.0,636.8 1085.0,632.5 1100.0,630.5 1115.0,631.2 1125.0,633.8 1137.5,635.5 1147.5,638.5 1160.0,639.8 1170.0,641.2 1195.0,641.8 1207.5,643.0 1220.0,644.2 1232.5,644.2 1240.0,645.5 1250.0,647.2 1260.0,649.8 1272.5,651.2 1282.5,653.0 1300.0,654.2 1307.5,655.5 1332.5,655.5 1340.0,653.0 1352.5,651.2 1365.0,648.0 1375.0,644.8 1382.5,641.8 1387.5,638.8" fill="none" stroke="#ff0000" stroke-width="1" stroke-dasharray="3,3"/>
</g>
<text x="0" y="593" font-size="9.6" fill="#000" font-family="Liberation Sans, sans-serif" textLength="130" lengthAdjust="spacingAndGlyphs" stroke="#000" stroke-width="0.12">MACD(12,26,9) 0.4651 -0.1479</text>
<text x="1637.5" y="591" font-size="9.6" fill="#000" font-family="Liberation Sans, sans-serif" textLength="28" lengthAdjust="spacingAndGlyphs" stroke="#000" stroke-width="0.12">1.7292</text>
<text x="1637.5" y="638.6" font-size="9.6" fill="#000" font-family="Liberation Sans, sans-serif" textLength="18" lengthAdjust="spacingAndGlyphs" stroke="#000" stroke-width="0.12">0.00</text>
<text x="1637.5" y="747" font-size="9.6" fill="#000" font-family="Liberation Sans, sans-serif" textLength="31" lengthAdjust="spacingAndGlyphs" stroke="#000" stroke-width="0.12">-3.7105</text>
<g shape-rendering="crispEdges">
<line x1="2" y1="788.5" x2="1633" y2="788.5" stroke="#c0c0c0" stroke-width="1" stroke-dasharray="3,3"/>
<line x1="2" y1="839.5" x2="1633" y2="839.5" stroke="#c0c0c0" stroke-width="1" stroke-dasharray="3,3"/>
<line x1="2" y1="900.5" x2="1633" y2="900.5" stroke="#c0c0c0" stroke-width="1" stroke-dasharray="3,3"/>
<polyline points="0,822.5 3.5,822.5 11.5,826.2 19.5,828.2 27.5,819.2 35.5,819.2 43.5,816.2 51.5,825.0 59.5,826.2 67.5,825.0 75.5,842.0 83.5,836.2 91.5,824.2 99.5,829.2 107.5,816.2 115.5,816.2 123.5,813.2 131.5,817.5 139.5,824.2 147.5,822.5 155.5,806.2 163.5,803.2 171.5,812.5 179.5,811.2 187.5,810.5 195.5,810.5 203.5,805.5 211.5,781.2 219.5,804.2 227.5,803.2 235.5,812.5 243.5,830.0 251.5,833.8 259.5,842.5 267.5,841.2 275.5,842.5 283.5,849.2 291.5,851.2 299.5,847.0 307.5,840.0 315.5,831.2 323.5,831.2 331.5,837.5 339.5,826.2 347.5,825.0 355.5,838.8 363.5,853.2 371.5,853.2 379.5,837.5 387.5,847.5 395.5,836.8 403.5,835.5 411.5,835.5 419.5,837.5 427.5,837.0 435.5,835.0 443.5,833.2 451.5,825.0 459.5,834.2 467.5,834.2 475.5,835.5 483.5,833.2 491.5,824.2 499.5,830.5 507.5,842.0 515.5,850.5 523.5,848.2 531.5,850.5 539.5,852.5 547.5,844.5 555.5,837.0 563.5,839.2 571.5,858.2 579.5,840.5 587.5,839.2 595.5,845.5 603.5,852.0 611.5,854.5 619.5,848.2 627.5,841.8 635.5,840.0 643.5,831.2 651.5,832.5 659.5,830.5 667.5,836.8 675.5,835.5 683.5,825.0 691.5,820.0 699.5,814.2 707.5,820.0 715.5,837.5 723.5,835.5 731.5,847.5 739.5,857.5 747.5,879.5 755.5,879.5 763.5,871.8 771.5,878.2 779.5,862.5 787.5,868.2 795.5,872.5 803.5,875.5 811.5,881.2 819.5,872.5 827.5,879.5 835.5,887.5 843.5,873.0 851.5,877.5 859.5,883.2 867.5,883.2 875.5,893.2 883.5,877.5 891.5,872.5 899.5,874.2 907.5,872.5 915.5,855.0 923.5,853.2 931.5,843.2 939.5,835.0 947.5,838.8 955.5,840.5 963.5,841.8 971.5,845.0 979.5,838.0 987.5,844.5 995.5,844.5 1003.5,840.5 1011.5,836.2 1019.5,830.5 1027.5,830.5 1035.5,830.5 1043.5,832.5 1051.5,828.2 1059.5,833.2 1067.5,833.2 1075.5,837.0 1083.5,836.2 1091.5,842.5 1099.5,855.0 1107.5,851.2 1115.5,849.2 1123.5,852.5 1131.5,849.5 1139.5,845.5 1147.5,850.5 1155.5,848.2 1163.5,826.2 1171.5,842.0 1179.5,845.5 1187.5,848.2 1195.5,850.0 1203.5,863.0 1211.5,855.0 1219.5,846.8 1227.5,843.2 1235.5,844.5 1243.5,855.0 1251.5,859.2 1259.5,853.2 1267.5,863.0 1275.5,866.2 1283.5,850.8 1291.5,840.0 1299.5,844.2 1307.5,845.5 1315.5,850.0 1323.5,846.2 1331.5,845.0 1339.5,834.5 1347.5,837.5 1355.5,834.2 1363.5,831.2 1371.5,830.0 1379.5,817.5 1387.5,806.2" fill="none" stroke="#1e90ff" stroke-width="1"/>
</g>
<text x="-0.8" y="765" font-size="9.6" fill="#000" font-family="Liberation Sans, sans-serif" textLength="67.2" lengthAdjust="spacingAndGlyphs" stroke="#000" stroke-width="0.12">RSI(14) 70.1671</text>
<text x="1637.5" y="762.9" font-size="9.6" fill="#000" font-family="Liberation Sans, sans-serif" textLength="14.5" lengthAdjust="spacingAndGlyphs" stroke="#000" stroke-width="0.12">100</text>
<text x="1637.5" y="791.9" font-size="9.6" fill="#000" font-family="Liberation Sans, sans-serif" textLength="9.5" lengthAdjust="spacingAndGlyphs" stroke="#000" stroke-width="0.12">80</text>
<text x="1637.5" y="842.9" font-size="9.6" fill="#000" font-family="Liberation Sans, sans-serif" textLength="9.5" lengthAdjust="spacingAndGlyphs" stroke="#000" stroke-width="0.12">50</text>
<text x="1637.5" y="903.9" font-size="9.6" fill="#000" font-family="Liberation Sans, sans-serif" textLength="9.5" lengthAdjust="spacingAndGlyphs" stroke="#000" stroke-width="0.12">15</text>
<text x="1637.5" y="922.9" font-size="9.6" fill="#000" font-family="Liberation Sans, sans-serif" textLength="4.8" lengthAdjust="spacingAndGlyphs" stroke="#000" stroke-width="0.12">0</text>
<g shape-rendering="crispEdges">
<rect x="59" y="927" width="1" height="3" fill="#000"/>
<rect x="123" y="927" width="1" height="3" fill="#000"/>
<rect x="187" y="927" width="1" height="3" fill="#000"/>
<rect x="251" y="927" width="1" height="3" fill="#000"/>
<rect x="315" y="927" width="1" height="3" fill="#000"/>
<rect x="379" y="927" width="1" height="3" fill="#000"/>
<rect x="443" y="927" width="1" height="3" fill="#000"/>
<rect x="507" y="927" width="1" height="3" fill="#000"/>
<rect x="571" y="927" width="1" height="3" fill="#000"/>
<rect x="635" y="927" width="1" height="3" fill="#000"/>
<rect x="699" y="927" width="1" height="3" fill="#000"/>
<rect x="763" y="927" width="1" height="3" fill="#000"/>
<rect x="827" y="927" width="1" height="3" fill="#000"/>
<rect x="891" y="927" width="1" height="3" fill="#000"/>
<rect x="955" y="927" width="1" height="3" fill="#000"/>
<rect x="1019" y="927" width="1" height="3" fill="#000"/>
<rect x="1083" y="927" width="1" height="3" fill="#000"/>
<rect x="1147" y="927" width="1" height="3" fill="#000"/>
<rect x="1211" y="927" width="1" height="3" fill="#000"/>
<rect x="1275" y="927" width="1" height="3" fill="#000"/>
<rect x="1339" y="927" width="1" height="3" fill="#000"/>
</g>
<text x="-5.4" y="938.6" font-size="9.6" fill="#000" font-family="Liberation Sans, sans-serif" textLength="52.3" lengthAdjust="spacingAndGlyphs" stroke="#000" stroke-width="0.12">11 Nov 2019</text>
<text x="58.6" y="938.6" font-size="9.6" fill="#000" font-family="Liberation Sans, sans-serif" textLength="52.3" lengthAdjust="spacingAndGlyphs" stroke="#000" stroke-width="0.12">20 Nov 2019</text>
<text x="122.6" y="938.6" font-size="9.6" fill="#000" font-family="Liberation Sans, sans-serif" textLength="52.3" lengthAdjust="spacingAndGlyphs" stroke="#000" stroke-width="0.12">29 Nov 2019</text>
<text x="186.6" y="938.6" font-size="9.6" fill="#000" font-family="Liberation Sans, sans-serif" textLength="45" lengthAdjust="spacingAndGlyphs" stroke="#000" stroke-width="0.12">9 Dec 2019</text>
<text x="250.6" y="938.6" font-size="9.6" fill="#000" font-family="Liberation Sans, sans-serif" textLength="50.3" lengthAdjust="spacingAndGlyphs" stroke="#000" stroke-width="0.12">18 Dec 2019</text>
<text x="314.6" y="938.6" font-size="9.6" fill="#000" font-family="Liberation Sans, sans-serif" textLength="50.3" lengthAdjust="spacingAndGlyphs" stroke="#000" stroke-width="0.12">27 Dec 2019</text>
<text x="378.6" y="938.6" font-size="9.6" fill="#000" font-family="Liberation Sans, sans-serif" textLength="43.3" lengthAdjust="spacingAndGlyphs" stroke="#000" stroke-width="0.12">6 Jan 2020</text>
<text x="442.6" y="938.6" font-size="9.6" fill="#000" font-family="Liberation Sans, sans-serif" textLength="48.3" lengthAdjust="spacingAndGlyphs" stroke="#000" stroke-width="0.12">15 Jan 2020</text>
<text x="506.6" y="938.6" font-size="9.6" fill="#000" font-family="Liberation Sans, sans-serif" textLength="48.7" lengthAdjust="spacingAndGlyphs" stroke="#000" stroke-width="0.12">24 Jan 2020</text>
<text x="570.6" y="938.6" font-size="9.6" fill="#000" font-family="Liberation Sans, sans-serif" textLength="45.3" lengthAdjust="spacingAndGlyphs" stroke="#000" stroke-width="0.12">3 Feb 2020</text>
<text x="634.6" y="938.6" font-size="9.6" fill="#000" font-family="Liberation Sans, sans-serif" textLength="50.3" lengthAdjust="spacingAndGlyphs" stroke="#000" stroke-width="0.12">12 Feb 2020</text>
<text x="698.6" y="938.6" font-size="9.6" fill="#000" font-family="Liberation Sans, sans-serif" textLength="50.7" lengthAdjust="spacingAndGlyphs" stroke="#000" stroke-width="0.12">21 Feb 2020</text>
<text x="762.6" y="938.6" font-size="9.6" fill="#000" font-family="Liberation Sans, sans-serif" textLength="45" lengthAdjust="spacingAndGlyphs" stroke="#000" stroke-width="0.12">2 Mar 2020</text>
<text x="826.6" y="938.6" font-size="9.6" fill="#000" font-family="Liberation Sans, sans-serif" textLength="49.3" lengthAdjust="spacingAndGlyphs" stroke="#000" stroke-width="0.12">11 Mar 2020</text>
<text x="890.6" y="938.6" font-size="9.6" fill="#000" font-family="Liberation Sans, sans-serif" textLength="49.7" lengthAdjust="spacingAndGlyphs" stroke="#000" stroke-width="0.12">20 Mar 2020</text>
<text x="954.6" y="938.6" font-size="9.6" fill="#000" font-family="Liberation Sans, sans-serif" textLength="50.3" lengthAdjust="spacingAndGlyphs" stroke="#000" stroke-width="0.12">30 Mar 2020</text>
<text x="1018.6" y="938.6" font-size="9.6" fill="#000" font-family="Liberation Sans, sans-serif" textLength="44" lengthAdjust="spacingAndGlyphs" stroke="#000" stroke-width="0.12">8 Apr 2020</text>
<text x="1082.6" y="938.6" font-size="9.6" fill="#000" font-family="Liberation Sans, sans-serif" textLength="49.5" lengthAdjust="spacingAndGlyphs" stroke="#000" stroke-width="0.12">19 Apr 2020</text>
<text x="1146.6" y="938.6" font-size="9.6" fill="#000" font-family="Liberation Sans, sans-serif" textLength="50" lengthAdjust="spacingAndGlyphs" stroke="#000" stroke-width="0.12">28 Apr 2020</text>
<text x="1210.6" y="938.6" font-size="9.6" fill="#000" font-family="Liberation Sans, sans-serif" textLength="48.7" lengthAdjust="spacingAndGlyphs" stroke="#000" stroke-width="0.12">7 May 2020</text>
<text x="1274.6" y="938.6" font-size="9.6" fill="#000" font-family="Liberation Sans, sans-serif" textLength="53.7" lengthAdjust="spacingAndGlyphs" stroke="#000" stroke-width="0.12">17 May 2020</text>
<text x="1338.6" y="938.6" font-size="9.6" fill="#000" font-family="Liberation Sans, sans-serif" textLength="53.7" lengthAdjust="spacingAndGlyphs" stroke="#000" stroke-width="0.12">26 May 2020</text>
<path d="M0,35.5 L2.5,32.5 L5,35.5 Z" fill="#000"/>
<text x="10" y="37" font-size="9.6" fill="#000" font-family="Liberation Sans, sans-serif" textLength="63" lengthAdjust="spacingAndGlyphs" stroke="#000" stroke-width="0.12">GBPJPY-,Daily</text>
<text x="79.5" y="37" font-size="9.6" fill="#000" font-family="Liberation Sans, sans-serif" textLength="140" lengthAdjust="spacingAndGlyphs" stroke="#000" stroke-width="0.12">134.286 136.507 134.250 136.358</text>
<defs>
<linearGradient id="gBtn" x1="0" y1="0" x2="0" y2="1"><stop offset="0" stop-color="#5a5aff"/><stop offset="1" stop-color="#3a3ae6"/></linearGradient>
<linearGradient id="gPrice" x1="0" y1="0" x2="0" y2="1"><stop offset="0" stop-color="#3535e0"/><stop offset="0.5" stop-color="#1c1ccc"/><stop offset="1" stop-color="#0000aa"/></linearGradient>
<linearGradient id="gSpin" x1="0" y1="0" x2="0" y2="1"><stop offset="0" stop-color="#f2f2f2"/><stop offset="0.5" stop-color="#dcdcdc"/><stop offset="1" stop-color="#cfcfcf"/></linearGradient>
</defs>
<g shape-rendering="crispEdges">
<rect x="0" y="44" width="219" height="67" fill="#fff"/>
<rect x="0" y="45" width="50" height="25" fill="url(#gBtn)"/>
<rect x="166" y="45" width="51" height="25" fill="url(#gBtn)"/>
<rect x="0" y="69" width="107" height="40" fill="url(#gPrice)"/>
<rect x="109" y="69" width="108" height="40" fill="url(#gPrice)"/>
<rect x="2" y="69" width="44" height="1" fill="#7070f0"/>
<rect x="169" y="69" width="44" height="1" fill="#7070f0"/>
<rect x="52" y="45" width="111" height="21" fill="#fff" stroke="#b0b0b0" stroke-width="1" transform="translate(0.5,0.5)"/>
<rect x="53" y="46" width="20" height="20" fill="url(#gSpin)"/><rect x="73" y="46" width="1" height="20" fill="#b0b0b0"/>
<rect x="142" y="46" width="21" height="20" fill="url(#gSpin)"/><rect x="141" y="46" width="1" height="20" fill="#b0b0b0"/>
</g>
<path d="M60,54 L65,54 L62.5,57 Z" fill="#5060b0"/>
<path d="M149,57 L154,57 L151.5,54 Z" fill="#5060b0"/>
<text x="10.5" y="60.8" font-size="12" fill="#fff" font-family="Liberation Sans, sans-serif" textLength="25.5" lengthAdjust="spacingAndGlyphs">SELL</text>
<text x="178.5" y="60.8" font-size="12" fill="#fff" font-family="Liberation Sans, sans-serif" textLength="23" lengthAdjust="spacingAndGlyphs">BUY</text>
<text x="114.3" y="60.0" font-size="12" fill="#000" font-family="Liberation Sans, sans-serif" textLength="23.6" lengthAdjust="spacingAndGlyphs">1.00</text>
<text x="21.4" y="99.4" font-size="11" fill="#fff" font-family="Liberation Sans, sans-serif" textLength="20.7" lengthAdjust="spacingAndGlyphs" font-weight="bold">136</text>
<text x="45.5" y="99.4" font-size="33" fill="#fff" font-family="Liberation Sans, sans-serif" textLength="34.5" lengthAdjust="spacingAndGlyphs">35</text>
<text x="85" y="83.7" font-size="11" fill="#fff" font-family="Liberation Sans, sans-serif" textLength="7" lengthAdjust="spacingAndGlyphs" font-weight="bold">8</text>
<text x="131.4" y="99.4" font-size="11" fill="#fff" font-family="Liberation Sans, sans-serif" textLength="20.7" lengthAdjust="spacingAndGlyphs" font-weight="bold">136</text>
<text x="155" y="99.4" font-size="33" fill="#fff" font-family="Liberation Sans, sans-serif" textLength="36" lengthAdjust="spacingAndGlyphs">43</text>
<text x="196.2" y="83.7" font-size="11" fill="#fff" font-family="Liberation Sans, sans-serif" textLength="7" lengthAdjust="spacingAndGlyphs" font-weight="bold">6</text>
<defs>
<linearGradient id="gGold" x1="0" y1="0" x2="1" y2="1"><stop offset="0" stop-color="#ffe45a"/><stop offset="0.6" stop-color="#e8b820"/><stop offset="1" stop-color="#b87a14"/></linearGradient>
<linearGradient id="gPlus" x1="0" y1="0" x2="0" y2="1"><stop offset="0" stop-color="#5cf05c"/><stop offset="1" stop-color="#0a9a0a"/></linearGradient>
<linearGradient id="gBlueBox" x1="0" y1="0" x2="1" y2="1"><stop offset="0" stop-color="#58b8ff"/><stop offset="1" stop-color="#1a6ae0"/></linearGradient>
<radialGradient id="gLens" cx="0.4" cy="0.35" r="0.7"><stop offset="0" stop-color="#ffffff"/><stop offset="1" stop-color="#bfe0f8"/></radialGradient>
<linearGradient id="gHat" x1="0" y1="0" x2="0" y2="1"><stop offset="0" stop-color="#7cc4f0"/><stop offset="1" stop-color="#3a8ad0"/></linearGradient>
<linearGradient id="gFace" x1="0" y1="0" x2="1" y2="1"><stop offset="0" stop-color="#fff2a0"/><stop offset="1" stop-color="#e8b830"/></linearGradient>
<linearGradient id="gCloud" x1="0" y1="0" x2="0" y2="1"><stop offset="0" stop-color="#ffffff"/><stop offset="1" stop-color="#c8d8f0"/></linearGradient>
</defs>
<g shape-rendering="crispEdges">
<rect x="0" y="0" width="1680" height="21" fill="#f0f0f0"/>
<rect x="0" y="20" width="1680" height="1" fill="#eaeaea"/>
<rect x="0" y="21" width="1680" height="1" fill="#a6a6a6"/>
<rect x="0" y="22" width="1680" height="1" fill="#6e6e6e"/>
<rect x="0" y="23" width="1680" height="2" fill="#ffffff"/>
<rect x="269" y="0" width="25" height="19" fill="#f9f9f9"/>
<rect x="268" y="0" width="1" height="19" fill="#a8a8a8"/>
<rect x="421" y="0" width="24" height="19" fill="#f9f9f9"/>
<rect x="420" y="0" width="1" height="19" fill="#a8a8a8"/>
<rect x="449" y="0" width="24" height="19" fill="#f9f9f9"/>
<rect x="448" y="0" width="1" height="19" fill="#a8a8a8"/>
<rect x="609" y="0" width="25" height="19" fill="#f9f9f9"/>
<rect x="608" y="0" width="1" height="19" fill="#a8a8a8"/>
<rect x="1083" y="0" width="25" height="19" fill="#f9f9f9"/>
<rect x="1082" y="0" width="1" height="19" fill="#a8a8a8"/>
<rect x="230" y="0" width="1" height="21" fill="#a8a8a8"/>
<rect x="325" y="0" width="1" height="19" fill="#a8a8a8"/>
<rect x="415" y="0" width="1" height="19" fill="#a8a8a8"/>
<rect x="477" y="0" width="1" height="19" fill="#a8a8a8"/>
<rect x="598" y="0" width="1" height="21" fill="#a8a8a8"/>
<rect x="665" y="0" width="1" height="19" fill="#a8a8a8"/>
<rect x="904" y="0" width="1" height="21" fill="#a8a8a8"/>
<rect x="1165" y="0" width="1" height="19" fill="#a8a8a8"/>
<rect x="234" y="1" width="3" height="1" fill="#a0a0a0"/>
<rect x="234" y="3" width="3" height="1" fill="#a0a0a0"/>
<rect x="234" y="5" width="3" height="1" fill="#a0a0a0"/>
<rect x="234" y="7" width="3" height="1" fill="#a0a0a0"/>
<rect x="234" y="9" width="3" height="1" fill="#a0a0a0"/>
<rect x="234" y="11" width="3" height="1" fill="#a0a0a0"/>
<rect x="234" y="13" width="3" height="1" fill="#a0a0a0"/>
<rect x="234" y="15" width="3" height="1" fill="#a0a0a0"/>
<rect x="234" y="17" width="3" height="1" fill="#a0a0a0"/>
<rect x="602" y="1" width="3" height="1" fill="#a0a0a0"/>
<rect x="602" y="3" width="3" height="1" fill="#a0a0a0"/>
<rect x="602" y="5" width="3" height="1" fill="#a0a0a0"/>
<rect x="602" y="7" width="3" height="1" fill="#a0a0a0"/>
<rect x="602" y="9" width="3" height="1" fill="#a0a0a0"/>
<rect x="602" y="11" width="3" height="1" fill="#a0a0a0"/>
<rect x="602" y="13" width="3" height="1" fill="#a0a0a0"/>
<rect x="602" y="15" width="3" height="1" fill="#a0a0a0"/>
<rect x="602" y="17" width="3" height="1" fill="#a0a0a0"/>
<rect x="908" y="1" width="3" height="1" fill="#a0a0a0"/>
<rect x="908" y="3" width="3" height="1" fill="#a0a0a0"/>
<rect x="908" y="5" width="3" height="1" fill="#a0a0a0"/>
<rect x="908" y="7" width="3" height="1" fill="#a0a0a0"/>
<rect x="908" y="9" width="3" height="1" fill="#a0a0a0"/>
<rect x="908" y="11" width="3" height="1" fill="#a0a0a0"/>
<rect x="908" y="13" width="3" height="1" fill="#a0a0a0"/>
<rect x="908" y="15" width="3" height="1" fill="#a0a0a0"/>
<rect x="908" y="17" width="3" height="1" fill="#a0a0a0"/>
</g>
<path d="M4,1.8 h8.0 l3.5,3.5 v9.5 h-11.5 Z" fill="#fff" stroke="#707070" stroke-width="1"/><path d="M12.0,1.8 v3.5 h3.5" fill="#e0e0e0" stroke="#8a8a8a" stroke-width="0.8"/>
<path d="M6,5.5 h4 M6,8 h6 M6,10.5 h4" stroke="#9a9a9a" stroke-width="1" fill="none"/>
<path d="M12.2,7 h3.6 v4.2 h4.2 v3.6 h-4.2 v4.2 h-3.6 v-4.2 h-4.2 v-3.6 h4.2 Z" fill="url(#gPlus)" stroke="#0a8a0a" stroke-width="0.9"/>
<text x="22.6" y="12.9" font-size="12.4" fill="#000" stroke="#000" stroke-width="0.3" font-family="'Liberation Sans', 'Noto Sans CJK SC', sans-serif" textLength="36.6" lengthAdjust="spacingAndGlyphs">新订单</text>
<path d="M77,2 L86.8,10.2 L78.6,16.6 L71,11 Z" fill="url(#gGold)" stroke="#a06a10" stroke-width="0.8"/>
<path d="M71,11 L78.6,16.6 L86.8,10.2 L86.8,11.6 L78.6,18 L71,12.4 Z" fill="#c89020" stroke="#8a5a0c" stroke-width="0.5"/>
<path d="M101.5,3 L106,1.2 L112,2.5 L112,11 L101.5,11 Z" fill="url(#gBlueBox)" stroke="#1a5ac8" stroke-width="0.7"/>
<path d="M105,4 h6 M105,6.5 h6" stroke="#d8ecff" stroke-width="1"/>
<path d="M101.5,16.5 a3,3 0 0 1 0.5,-6 a4,4 0 0 1 7.2,-1 a3.2,3.2 0 0 1 4.6,3 a2.2,2.2 0 0 1 -0.6,4 Z" fill="url(#gCloud)" stroke="#4a78c0" stroke-width="0.9"/>
<path d="M133.60,11.24 A2.8,2.8 0 0 1 135,6.000000000000001" fill="none" stroke="#3a6ad8" stroke-width="1.2" opacity="1"/>
<path d="M135,6.000000000000001 A2.8,2.8 0 0 1 135.48,11.56" fill="none" stroke="#3aa84a" stroke-width="1.2" opacity="1"/>
<path d="M132.35,13.41 A5.3,5.3 0 0 1 135,3.500000000000001" fill="none" stroke="#3a6ad8" stroke-width="1.2" opacity="0.8"/>
<path d="M135,3.500000000000001 A5.3,5.3 0 0 1 135.90,14.02" fill="none" stroke="#3aa84a" stroke-width="1.2" opacity="0.8"/>
<path d="M131.10,15.59 A7.8,7.8 0 0 1 135,1.0000000000000009" fill="none" stroke="#3a6ad8" stroke-width="1.2" opacity="0.5"/>
<path d="M135,1.0000000000000009 A7.8,7.8 0 0 1 136.33,16.48" fill="none" stroke="#3aa84a" stroke-width="1.2" opacity="0.5"/>
<path d="M135,8.8 V16.5" stroke="#2aa030" stroke-width="1.4"/>
<circle cx="135" cy="8.8" r="1.5" fill="#2a5ad0"/>
<path d="M156,8 L168.5,8 L164,16.8 L161,16.8 Z" fill="url(#gFace)" stroke="#c89a20" stroke-width="0.6"/>
<ellipse cx="162" cy="6.2" rx="7.8" ry="2.4" fill="url(#gHat)" stroke="#3a7ac0" stroke-width="0.6"/>
<path d="M158,6 a4,4.6 0 0 1 8,0 Z" fill="url(#gHat)" stroke="#3a7ac0" stroke-width="0.6"/>
<circle cx="166.4" cy="12.9" r="4.2" fill="#d81e10"/>
<rect x="164.5" y="11" width="3.8" height="3.8" fill="#fff"/>
<text x="175.6" y="12.9" font-size="12.4" fill="#000" stroke="#000" stroke-width="0.3" font-family="'Liberation Sans', 'Noto Sans CJK SC', sans-serif" textLength="47.35" lengthAdjust="spacingAndGlyphs">自动交易</text>
<path d="M248.4,16.8 V3.6 M246,14.6 H259" stroke="#505050" stroke-width="1.2" fill="none"/><path d="M248.4,2.6 l-1.8,2.6 h3.6 Z M260,14.6 l-2.6,-1.8 v3.6 Z" fill="#505050"/>
<path d="M254.6,4.3 V12.9 M254.6,5.4 h2.6 M254.6,11.4 h-2.6" stroke="#0a7a0a" stroke-width="1.2" fill="none"/>
<path d="M276.4,16.8 V3.6 M274,14.6 H287" stroke="#505050" stroke-width="1.2" fill="none"/><path d="M276.4,2.6 l-1.8,2.6 h3.6 Z M288,14.6 l-2.6,-1.8 v3.6 Z" fill="#505050"/>
<path d="M282.7,1 V13" stroke="#0a7a0a" stroke-width="1.1"/><rect x="280.5" y="3.3" width="4.4" height="7.4" fill="#30e050" stroke="#0a8a0a" stroke-width="0.9"/>
<path d="M304.4,16.8 V3.6 M302,14.6 H315" stroke="#505050" stroke-width="1.2" fill="none"/><path d="M304.4,2.6 l-1.8,2.6 h3.6 Z M316,14.6 l-2.6,-1.8 v3.6 Z" fill="#505050"/>
<path d="M303.2,11.8 Q306,9 308,6.8 Q309.5,5.8 311,7.4 Q313,9.6 314.8,10.4" stroke="#1a9a2a" stroke-width="1.1" fill="none"/>
<path d="M344,11.3 L349.6,16.5" stroke="#b8901a" stroke-width="2.6" stroke-linecap="round"/><path d="M344.4,11.100000000000001 L349.4,15.9" stroke="#f0d050" stroke-width="1.2" stroke-linecap="round"/><circle cx="340" cy="6.9" r="5.5" fill="url(#gLens)" stroke="#3a78c8" stroke-width="1.2"/><path d="M337,6.9 h6" stroke="#3a80b0" stroke-width="1.6"/><path d="M340,3.9000000000000004 v6" stroke="#3a80b0" stroke-width="1.6"/>
<path d="M371.8,11.3 L377.40000000000003,16.5" stroke="#b8901a" stroke-width="2.6" stroke-linecap="round"/><path d="M372.2,11.100000000000001 L377.2,15.9" stroke="#f0d050" stroke-width="1.2" stroke-linecap="round"/><circle cx="367.8" cy="6.9" r="5.5" fill="url(#gLens)" stroke="#3a78c8" stroke-width="1.2"/><path d="M364.8,6.9 h6" stroke="#3a80b0" stroke-width="1.6"/>
<rect x="390" y="1" width="8" height="8" fill="#4ba614" shape-rendering="crispEdges"/>
<path d="M391.6,4.2 h4.8 v3 h-1 v-1 h-2.8 v1 h-1 Z" fill="#f4f8ff"/>
<rect x="398" y="1" width="8" height="8" fill="#2a5ad8" shape-rendering="crispEdges"/>
<path d="M399.6,4.2 h4.8 v3 h-1 v-1 h-2.8 v1 h-1 Z" fill="#f4f8ff"/>
<rect x="390" y="9" width="8" height="8" fill="#2a5ad8" shape-rendering="crispEdges"/>
<path d="M391.6,12.2 h4.8 v3 h-1 v-1 h-2.8 v1 h-1 Z" fill="#f4f8ff"/>
<rect x="398" y="9" width="8" height="8" fill="#4ba614" shape-rendering="crispEdges"/>
<path d="M399.6,12.2 h4.8 v3 h-1 v-1 h-2.8 v1 h-1 Z" fill="#f4f8ff"/>
<path d="M428.4,16.8 V3.6 M426,14.6 H439" stroke="#505050" stroke-width="1.2" fill="none"/><path d="M428.4,2.6 l-1.8,2.6 h3.6 Z M440,14.6 l-2.6,-1.8 v3.6 Z" fill="#505050"/>
<path d="M433.2,5.2 L437,8.6 L433.2,12 Z" fill="#50e070" stroke="#0a9a2a" stroke-width="1"/>
<path d="M456.4,16.8 V3.6 M454,14.6 H467" stroke="#505050" stroke-width="1.2" fill="none"/><path d="M456.4,2.6 l-1.8,2.6 h3.6 Z M468,14.6 l-2.6,-1.8 v3.6 Z" fill="#505050"/>
<path d="M462.7,3.2 V13" stroke="#1a6aa0" stroke-width="1.2"/>
<path d="M463.6,8.6 L466.6,6.4 L466.2,8 L468.2,8 L468.2,9.2 L466.2,9.2 L466.6,10.8 Z" fill="#e8501a"/>
<path d="M487,1.6 h7.5 l3.5,3.5 v9.1 h-11 Z" fill="#fff" stroke="#707070" stroke-width="1"/><path d="M494.5,1.6 v3.5 h3.5" fill="#e0e0e0" stroke="#8a8a8a" stroke-width="0.8"/>
<path d="M493.5,4.2 q-2,-0.4 -2,1.6 v5 q0,1.4 -1.2,1.4 M489.6,7.4 h3.4" stroke="#6a5a3a" stroke-width="0.9" fill="none"/>
<path d="M495.2,7 h3.6 v4.2 h4.2 v3.6 h-4.2 v4.2 h-3.6 v-4.2 h-4.2 v-3.6 h4.2 Z" fill="url(#gPlus)" stroke="#0a8a0a" stroke-width="0.9"/>
<path d="M509,8.3 h5.4 l-2.7,2.9 Z" fill="#000"/>
<circle cx="532.9" cy="8.9" r="7" fill="#fff" stroke="#1c6cd0" stroke-width="2.2"/>
<circle cx="532.9" cy="8.9" r="7.9" fill="none" stroke="#0c4aa0" stroke-width="0.5"/>
<path d="M532.9,4.8 V9 H536" stroke="#303030" stroke-width="1.1" fill="none"/>
<path d="M548,8.3 h5.4 l-2.7,2.9 Z" fill="#000"/>
<rect x="564.5" y="2.4" width="15.4" height="13" fill="#fff" stroke="#3a70c0" stroke-width="1"/>
<rect x="565" y="2.9" width="14.4" height="1.6" fill="#5a90e0"/>
<path d="M565,10.7 h14.4" stroke="#5a90e0" stroke-width="0.8"/>
<path d="M566.5,8.6 h2 l1.2,-1.4 h1.6 l1.2,-1 l1.6,0.8 h1.4 l1.2,-1 h1" stroke="#9a1a0a" stroke-width="1.2" fill="none"/>
<path d="M566.5,13.6 h1.6 l1.2,-1 l1.4,0.8 h1.4 l1.6,-2 l1.6,0.4 l1.6,1.8" stroke="#1a8a2a" stroke-width="1.1" fill="none"/>
<path d="M587,8.3 h5.4 l-2.7,2.9 Z" fill="#000"/>
<path d="M616,2.1 L616,13.2 L618.9,10.9 L621,15.7 L623,14.7 L620.8,10.2 L624.2,9.4 Z" fill="#505050"/>
<path d="M648.6,2.1 V8.2 M648.6,10.6 V16.8 M641,9.4 H647.4 M649.8,9.4 H656" stroke="#505050" stroke-width="1.3" fill="none"/>
<path d="M682.5,3.2 V15.7" stroke="#505050" stroke-width="1.3"/>
<path d="M705,9.4 H717" stroke="#505050" stroke-width="1.3"/>
<path d="M732.9,15.9 L745,3.9" stroke="#505050" stroke-width="1.2"/>
<path d="M759,10.8 L766.8,3.2 M764,15.7 L772.9,7.1" stroke="#505050" stroke-width="1"/>
<path d="M760.5,14.5 L763,7 L764.6,12 L767,5.6 L768.6,10 L770.8,1.6 L771.6,7.6" stroke="#505050" stroke-width="0.9" fill="none"/>
<text x="769.8" y="17.6" font-size="6.6" font-weight="bold" fill="#404040" font-family="Liberation Sans, sans-serif">E</text>
<path d="M788,2.5 H801.4" stroke="#505050" stroke-width="1.1" stroke-dasharray="1,1.3"/>
<path d="M788,5.4 H801.4" stroke="#505050" stroke-width="1.1" stroke-dasharray="1,1.3"/>
<path d="M788,9.3 H801.4" stroke="#505050" stroke-width="1.1" stroke-dasharray="1,1.3"/>
<path d="M788,13.6 H797" stroke="#505050" stroke-width="1.1" stroke-dasharray="1,1.3"/>
<text x="797.8" y="17.6" font-size="6.6" font-weight="bold" fill="#404040" font-family="Liberation Sans, sans-serif">F</text>
<text x="818.6" y="13.7" font-size="12" fill="#606060" font-family="Liberation Sans, sans-serif" textLength="8" lengthAdjust="spacingAndGlyphs">A</text>
<rect x="845.3" y="3.6" width="11.2" height="12" fill="none" stroke="#606060" stroke-width="1" stroke-dasharray="1,1.2"/>
<text x="847" y="13.7" font-size="10.8" font-weight="bold" fill="#606060" font-family="Liberation Sans, sans-serif" textLength="8" lengthAdjust="spacingAndGlyphs">T</text>
<path d="M875.4,2.8 L878.8,6 L876.4,6 L876.4,7.2 L874.4,7.2 L874.4,6 L872,6 Z" fill="#505050"/>
<path d="M874.4,10 L876.6,12 L880.8,7.2" stroke="#505050" stroke-width="1.3" fill="none"/>
<path d="M882.5,16 L879.1,12.8 L881.5,12.8 L881.5,11.6 L883.5,11.6 L883.5,12.8 L886,12.8 Z" fill="#505050"/>
<path d="M893,8.3 h5.4 l-2.7,2.9 Z" fill="#000"/>
<text x="919.6" y="13" font-size="9.6" fill="#484848" font-family="Liberation Sans, sans-serif" textLength="13" lengthAdjust="spacingAndGlyphs">M1</text>
<text x="947.5" y="13" font-size="9.6" fill="#484848" font-family="Liberation Sans, sans-serif" textLength="12.6" lengthAdjust="spacingAndGlyphs">M5</text>
<text x="973.2" y="13" font-size="9.6" fill="#484848" font-family="Liberation Sans, sans-serif" textLength="17.8" lengthAdjust="spacingAndGlyphs">M15</text>
<text x="1001.2" y="13" font-size="9.6" fill="#484848" font-family="Liberation Sans, sans-serif" textLength="18.4" lengthAdjust="spacingAndGlyphs">M30</text>
<text x="1032.5" y="13" font-size="9.6" fill="#484848" font-family="Liberation Sans, sans-serif" textLength="11.3" lengthAdjust="spacingAndGlyphs">H1</text>
<text x="1060" y="13" font-size="9.6" fill="#484848" font-family="Liberation Sans, sans-serif" textLength="11.8" lengthAdjust="spacingAndGlyphs">H4</text>
<text x="1088.8" y="13" font-size="9.6" fill="#484848" font-family="Liberation Sans, sans-serif" textLength="11.3" lengthAdjust="spacingAndGlyphs">D1</text>
<text x="1116" y="13" font-size="9.6" fill="#484848" font-family="Liberation Sans, sans-serif" textLength="14" lengthAdjust="spacingAndGlyphs">W1</text>
<text x="1142.5" y="13" font-size="9.6" fill="#484848" font-family="Liberation Sans, sans-serif" textLength="15" lengthAdjust="spacingAndGlyphs">MN</text>
<path d="M1632.6,9.6 L1628.2,13.6" stroke="#2050d0" stroke-width="2.2" stroke-linecap="round"/>
<circle cx="1635.7" cy="6.4" r="3.9" fill="#fff" stroke="#2a5ae0" stroke-width="1.3"/>
<ellipse cx="1668.2" cy="6.2" rx="6.6" ry="4.8" fill="#f4f4f8" stroke="#a8a8a8" stroke-width="0.8"/><path d="M1670,10.4 l1.6,2.2 l0.2,-2.6 Z" fill="#909090"/>
<ellipse cx="1659" cy="10.4" rx="4.9" ry="3.9" fill="#f6f6f8" stroke="#a0a0a0" stroke-width="0.8"/><path d="M1656.4,13.6 l-0.4,2.2 l2.2,-1.8 Z" fill="#909090"/>
<path d="M1397.7,26 H1407.1 L1402.4,31 Z" fill="#c0c0c0"/>
</svg>
</body></html>
